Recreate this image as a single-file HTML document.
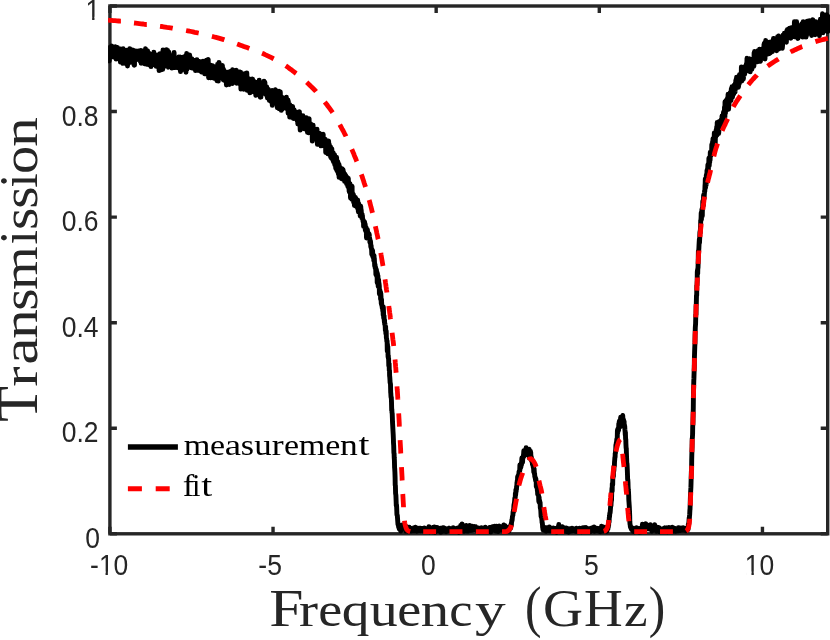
<!DOCTYPE html>
<html><head><meta charset="utf-8"><title>Transmission vs Frequency</title>
<style>
html,body{margin:0;padding:0;background:#fff;}
body{width:830px;height:640px;overflow:hidden;}
svg{display:block;will-change:transform;}
.sans{font-family:"Liberation Sans",sans-serif;font-size:26.5px;fill:#262626;}
.serif{font-family:"Liberation Serif",serif;fill:#262626;}
.leg{font-family:"Liberation Serif",serif;fill:#000;}
</style></head><body>
<svg width="830" height="640" viewBox="0 0 830 640">
<rect width="830" height="640" fill="#fff"/>
<g id="axes" fill="none" stroke="#262626" stroke-width="3.4">
<rect x="109.9" y="6.0" width="717.80" height="527.80"/>
<path d="M109.90 533.80V526.80M109.90 6.00V13.00M273.04 533.80V526.80M273.04 6.00V13.00M436.17 533.80V526.80M436.17 6.00V13.00M599.31 533.80V526.80M599.31 6.00V13.00M762.45 533.80V526.80M762.45 6.00V13.00M109.90 533.80H116.90M827.70 533.80H820.70M109.90 428.24H116.90M827.70 428.24H820.70M109.90 322.68H116.90M827.70 322.68H820.70M109.90 217.12H116.90M827.70 217.12H820.70M109.90 111.56H116.90M827.70 111.56H820.70M109.90 6.00H116.90M827.70 6.00H820.70"/>
</g>
<clipPath id="box"><rect x="108.1" y="4.3" width="722.3" height="531.2"/></clipPath>
<g id="curves" fill="none" clip-path="url(#box)">
<path id="meas" d="M107.6 55.7L107.8 60.8L107.9 60.2L108.1 53.4L108.3 54.2L108.5 53.2L108.6 57.4L108.8 54.8L109.0 57.9L109.1 47.7L109.3 60.8L109.5 54.3L109.6 57.2L109.8 53.9L110.0 52.8L110.2 56.0L110.3 57.3L110.5 53.2L110.7 53.3L110.8 56.4L111.0 50.3L111.2 47.7L111.3 55.0L111.5 50.8L111.7 45.9L111.9 50.1L112.0 51.4L112.2 48.6L112.4 47.4L112.5 53.2L112.7 56.5L112.9 52.2L113.0 50.2L113.2 54.5L113.4 55.8L113.6 51.9L113.7 55.2L113.9 57.1L114.1 52.3L114.2 50.0L114.4 54.6L114.6 54.2L114.7 57.5L114.9 48.4L115.1 50.8L115.3 50.2L115.4 46.8L115.6 54.1L115.8 55.7L115.9 50.8L116.1 59.1L116.3 57.0L116.4 56.3L116.6 55.5L116.8 57.7L117.0 48.9L117.1 56.5L117.3 56.5L117.5 47.4L117.6 55.7L117.8 53.4L118.0 57.4L118.1 52.8L118.3 54.4L118.5 55.9L118.7 51.2L118.8 57.0L119.0 54.3L119.2 56.6L119.3 52.8L119.5 59.0L119.7 57.2L119.8 54.2L120.0 57.4L120.2 59.9L120.4 62.0L120.5 49.0L120.7 58.6L120.9 57.0L121.0 54.9L121.2 51.4L121.4 60.2L121.5 50.5L121.7 57.6L121.9 60.5L122.1 49.3L122.2 54.3L122.4 50.5L122.6 56.5L122.7 61.4L122.9 63.4L123.1 48.7L123.2 53.3L123.4 58.3L123.6 61.6L123.8 57.2L123.9 52.7L124.1 56.7L124.3 55.5L124.4 54.8L124.6 52.7L124.8 57.0L124.9 56.7L125.1 55.2L125.3 54.7L125.5 50.7L125.6 53.8L125.8 60.4L126.0 55.0L126.1 50.2L126.3 61.0L126.5 58.0L126.6 64.1L126.8 56.3L127.0 54.3L127.2 50.6L127.3 61.4L127.5 66.0L127.7 53.2L127.8 53.9L128.0 58.8L128.2 53.3L128.3 55.6L128.5 55.3L128.7 57.5L128.9 61.0L129.0 56.9L129.2 60.4L129.4 55.3L129.5 58.2L129.7 48.7L129.9 51.4L130.0 60.1L130.2 54.8L130.4 59.4L130.6 59.2L130.7 62.3L130.9 60.3L131.1 61.2L131.2 56.8L131.4 54.6L131.6 54.5L131.7 55.4L131.9 52.9L132.1 55.2L132.3 57.0L132.4 58.3L132.6 56.0L132.8 49.9L132.9 57.0L133.1 58.1L133.3 61.4L133.4 59.4L133.6 54.7L133.8 54.4L134.0 64.9L134.1 60.0L134.3 64.1L134.5 65.2L134.6 53.8L134.8 58.4L135.0 58.7L135.1 59.0L135.3 58.9L135.5 57.5L135.7 57.4L135.8 50.9L136.0 56.0L136.2 53.7L136.3 57.0L136.5 54.7L136.7 58.8L136.8 59.6L137.0 57.5L137.2 57.5L137.4 56.6L137.5 54.5L137.7 55.6L137.9 54.3L138.0 57.7L138.2 56.2L138.4 58.4L138.5 51.0L138.7 59.6L138.9 53.2L139.1 53.3L139.2 55.4L139.4 54.0L139.6 57.3L139.7 54.0L139.9 52.1L140.1 53.0L140.2 61.3L140.4 56.4L140.6 51.8L140.8 56.4L140.9 50.4L141.1 63.3L141.3 50.6L141.4 58.4L141.6 58.7L141.8 51.0L141.9 57.8L142.1 60.5L142.3 58.5L142.5 57.8L142.6 60.5L142.8 57.5L143.0 58.2L143.1 56.5L143.3 59.4L143.5 53.4L143.6 60.2L143.8 55.2L144.0 53.0L144.2 58.7L144.3 63.8L144.5 61.1L144.7 55.4L144.8 60.1L145.0 55.7L145.2 57.1L145.3 57.9L145.5 48.7L145.7 58.4L145.9 53.8L146.0 55.1L146.2 52.1L146.4 52.0L146.5 54.2L146.7 61.1L146.9 64.4L147.0 57.9L147.2 62.2L147.4 57.0L147.6 50.7L147.7 58.7L147.9 59.8L148.1 56.5L148.2 59.3L148.4 60.4L148.6 54.9L148.7 52.6L148.9 57.5L149.1 57.5L149.3 57.0L149.4 62.2L149.6 65.1L149.8 56.9L149.9 61.2L150.1 62.2L150.3 61.4L150.4 62.7L150.6 57.2L150.8 61.6L151.0 66.6L151.1 61.9L151.3 56.5L151.5 61.2L151.6 63.8L151.8 60.4L152.0 56.8L152.1 65.0L152.3 54.3L152.5 61.1L152.7 59.1L152.8 54.6L153.0 64.0L153.2 60.7L153.3 54.9L153.5 61.7L153.7 57.8L153.8 52.2L154.0 56.9L154.2 60.7L154.4 62.2L154.5 60.4L154.7 60.0L154.9 61.7L155.0 59.2L155.2 64.6L155.4 60.7L155.5 61.4L155.7 62.4L155.9 56.3L156.1 57.7L156.2 66.4L156.4 61.9L156.6 59.6L156.7 62.0L156.9 58.9L157.1 61.9L157.2 58.3L157.4 62.0L157.6 54.9L157.8 66.1L157.9 59.0L158.1 54.9L158.3 60.1L158.4 59.6L158.6 61.6L158.8 56.6L158.9 62.5L159.1 70.6L159.3 56.0L159.5 62.2L159.6 59.6L159.8 61.5L160.0 53.8L160.1 56.3L160.3 62.4L160.5 60.4L160.6 66.8L160.8 57.7L161.0 61.0L161.2 69.9L161.3 57.3L161.5 56.7L161.7 59.9L161.8 59.8L162.0 63.2L162.2 60.4L162.3 56.9L162.5 60.5L162.7 69.3L162.9 64.5L163.0 49.9L163.2 58.9L163.4 56.0L163.5 61.7L163.7 58.6L163.9 66.7L164.0 62.8L164.2 62.6L164.4 59.9L164.6 59.0L164.7 60.4L164.9 64.1L165.1 61.2L165.2 57.8L165.4 64.1L165.6 59.9L165.7 58.9L165.9 56.2L166.1 57.1L166.3 56.9L166.4 49.8L166.6 63.4L166.8 61.7L166.9 58.8L167.1 63.7L167.3 61.4L167.4 61.2L167.6 50.4L167.8 59.0L168.0 62.1L168.1 66.3L168.3 67.2L168.5 65.7L168.6 55.9L168.8 52.0L169.0 62.7L169.1 60.7L169.3 64.3L169.5 60.2L169.7 61.6L169.8 55.1L170.0 62.6L170.2 59.3L170.3 62.4L170.5 62.8L170.7 60.7L170.8 62.4L171.0 61.2L171.2 64.2L171.4 63.2L171.5 59.2L171.7 59.1L171.9 68.1L172.0 61.0L172.2 65.2L172.4 62.9L172.5 59.3L172.7 58.6L172.9 61.9L173.1 62.5L173.2 63.8L173.4 56.6L173.6 59.2L173.7 61.1L173.9 67.6L174.1 52.4L174.2 63.2L174.4 59.4L174.6 63.2L174.8 59.6L174.9 62.9L175.1 67.6L175.3 62.9L175.4 63.3L175.6 63.1L175.8 58.8L175.9 63.8L176.1 60.9L176.3 58.7L176.5 61.7L176.6 61.0L176.8 64.8L177.0 61.8L177.1 60.0L177.3 67.7L177.5 66.0L177.6 67.1L177.8 64.6L178.0 61.9L178.2 60.8L178.3 61.4L178.5 66.2L178.7 63.1L178.8 57.0L179.0 62.6L179.2 57.4L179.3 63.5L179.5 58.4L179.7 58.2L179.9 63.6L180.0 62.9L180.2 56.9L180.4 66.2L180.5 71.6L180.7 57.7L180.9 70.4L181.0 60.8L181.2 61.6L181.4 62.8L181.6 58.0L181.7 68.6L181.9 65.5L182.1 60.7L182.2 62.6L182.4 57.8L182.6 62.3L182.7 67.2L182.9 57.1L183.1 62.0L183.3 64.2L183.4 67.6L183.6 68.7L183.8 61.8L183.9 60.7L184.1 65.2L184.3 62.1L184.4 62.3L184.6 67.6L184.8 69.9L185.0 64.4L185.1 62.6L185.3 65.5L185.5 56.0L185.6 63.1L185.8 59.1L186.0 72.3L186.1 65.8L186.3 63.6L186.5 62.2L186.7 53.4L186.8 65.6L187.0 69.1L187.2 60.1L187.3 65.4L187.5 65.6L187.7 56.9L187.8 66.3L188.0 67.9L188.2 63.6L188.4 62.5L188.5 65.8L188.7 56.9L188.9 63.1L189.0 66.8L189.2 58.1L189.4 66.7L189.5 61.3L189.7 55.0L189.9 62.6L190.1 59.3L190.2 64.3L190.4 58.6L190.6 67.1L190.7 60.4L190.9 64.6L191.1 61.0L191.2 62.1L191.4 67.9L191.6 64.3L191.8 62.0L191.9 58.8L192.1 68.1L192.3 66.5L192.4 62.5L192.6 64.8L192.8 60.0L192.9 60.1L193.1 60.9L193.3 65.5L193.5 65.3L193.6 61.4L193.8 67.2L194.0 67.5L194.1 65.2L194.3 68.6L194.5 63.6L194.6 64.4L194.8 66.7L195.0 64.8L195.2 68.1L195.3 60.3L195.5 70.6L195.7 62.3L195.8 64.7L196.0 60.2L196.2 67.8L196.3 70.4L196.5 69.7L196.7 68.9L196.9 59.8L197.0 62.8L197.2 64.1L197.4 62.4L197.5 70.3L197.7 66.8L197.9 66.0L198.0 68.0L198.2 62.6L198.4 62.8L198.6 63.0L198.7 68.3L198.9 67.7L199.1 68.7L199.2 70.6L199.4 61.4L199.6 64.5L199.7 67.2L199.9 61.6L200.1 64.7L200.3 70.6L200.4 71.0L200.6 70.9L200.8 67.0L200.9 66.1L201.1 71.0L201.3 65.5L201.4 68.3L201.6 72.1L201.8 65.6L202.0 64.7L202.1 67.0L202.3 69.4L202.5 69.0L202.6 67.7L202.8 69.3L203.0 61.1L203.1 63.9L203.3 67.9L203.5 63.7L203.7 62.2L203.8 62.7L204.0 63.8L204.2 66.7L204.3 63.5L204.5 68.3L204.7 73.9L204.8 66.9L205.0 72.3L205.2 68.6L205.4 63.3L205.5 66.7L205.7 63.9L205.9 70.7L206.0 63.4L206.2 72.9L206.4 70.1L206.5 60.3L206.7 71.0L206.9 74.0L207.1 65.2L207.2 72.1L207.4 61.6L207.6 69.5L207.7 62.3L207.9 70.5L208.1 62.0L208.2 59.4L208.4 70.5L208.6 77.8L208.8 67.0L208.9 72.5L209.1 69.9L209.3 68.4L209.4 72.1L209.6 76.1L209.8 65.2L209.9 72.2L210.1 71.5L210.3 64.9L210.5 76.5L210.6 77.9L210.8 67.0L211.0 77.3L211.1 71.0L211.3 70.3L211.5 76.7L211.6 72.0L211.8 72.4L212.0 77.0L212.2 76.3L212.3 74.9L212.5 66.2L212.7 65.7L212.8 76.0L213.0 68.3L213.2 72.4L213.3 67.9L213.5 71.3L213.7 67.2L213.9 78.3L214.0 68.3L214.2 71.7L214.4 71.5L214.5 76.9L214.7 66.9L214.9 72.2L215.0 71.6L215.2 74.4L215.4 74.2L215.6 70.6L215.7 73.3L215.9 70.9L216.1 74.1L216.2 71.9L216.4 69.8L216.6 72.2L216.7 73.6L216.9 80.8L217.1 70.3L217.3 73.3L217.4 77.6L217.6 64.2L217.8 65.4L217.9 67.5L218.1 71.5L218.3 81.1L218.4 73.3L218.6 76.4L218.8 70.9L219.0 62.4L219.1 63.0L219.3 75.6L219.5 72.4L219.6 66.8L219.8 75.9L220.0 65.9L220.1 76.0L220.3 77.3L220.5 68.9L220.7 67.7L220.8 75.1L221.0 67.8L221.2 75.3L221.3 67.6L221.5 75.2L221.7 72.6L221.8 70.7L222.0 69.1L222.2 73.5L222.4 65.5L222.5 71.8L222.7 71.4L222.9 75.6L223.0 68.5L223.2 79.8L223.4 72.3L223.5 69.3L223.7 79.0L223.9 80.2L224.1 73.3L224.2 70.8L224.4 74.4L224.6 71.8L224.7 73.4L224.9 80.6L225.1 76.4L225.2 75.6L225.4 76.5L225.6 75.1L225.8 78.6L225.9 78.9L226.1 74.3L226.3 76.2L226.4 85.0L226.6 77.6L226.8 75.4L226.9 84.0L227.1 76.4L227.3 72.3L227.5 79.0L227.6 73.2L227.8 74.7L228.0 77.9L228.1 76.2L228.3 73.9L228.5 74.7L228.6 74.6L228.8 81.2L229.0 74.1L229.2 74.7L229.3 84.5L229.5 74.8L229.7 82.5L229.8 81.8L230.0 76.2L230.2 71.5L230.3 78.5L230.5 79.3L230.7 80.4L230.9 77.0L231.0 81.2L231.2 81.9L231.4 72.6L231.5 82.0L231.7 77.2L231.9 74.4L232.0 75.3L232.2 83.5L232.4 80.1L232.6 69.7L232.7 76.7L232.9 75.9L233.1 75.7L233.2 74.4L233.4 70.9L233.6 79.6L233.7 72.9L233.9 75.0L234.1 74.2L234.3 73.7L234.4 79.3L234.6 78.0L234.8 74.1L234.9 73.1L235.1 74.9L235.3 80.4L235.4 77.3L235.6 77.7L235.8 75.7L236.0 76.0L236.1 77.9L236.3 70.2L236.5 83.3L236.6 74.3L236.8 75.3L237.0 82.5L237.1 78.4L237.3 77.8L237.5 75.6L237.7 72.0L237.8 78.6L238.0 82.5L238.2 74.8L238.3 83.4L238.5 74.1L238.7 75.7L238.8 80.4L239.0 78.6L239.2 81.3L239.4 76.1L239.5 75.1L239.7 72.0L239.9 74.6L240.0 75.2L240.2 74.0L240.4 80.6L240.5 77.1L240.7 72.2L240.9 89.1L241.1 76.8L241.2 75.3L241.4 84.7L241.6 84.5L241.7 75.9L241.9 74.8L242.1 76.7L242.2 84.8L242.4 79.4L242.6 77.7L242.8 80.7L242.9 85.4L243.1 75.7L243.3 79.6L243.4 75.9L243.6 89.3L243.8 88.1L243.9 84.9L244.1 80.9L244.3 83.9L244.5 73.7L244.6 82.6L244.8 76.7L245.0 76.8L245.1 79.1L245.3 80.5L245.5 84.0L245.6 84.6L245.8 83.0L246.0 78.5L246.2 84.6L246.3 81.7L246.5 86.6L246.7 78.8L246.8 72.9L247.0 80.5L247.2 90.4L247.3 84.2L247.5 81.7L247.7 85.8L247.9 84.5L248.0 84.4L248.2 80.8L248.4 83.0L248.5 83.6L248.7 80.5L248.9 78.8L249.0 83.6L249.2 86.8L249.4 85.6L249.6 85.2L249.7 85.3L249.9 92.9L250.1 84.6L250.2 87.6L250.4 91.2L250.6 84.2L250.7 85.1L250.9 88.1L251.1 90.7L251.3 85.7L251.4 86.0L251.6 85.1L251.8 80.4L251.9 89.2L252.1 84.2L252.3 78.9L252.4 84.9L252.6 79.1L252.8 81.9L253.0 85.9L253.1 82.5L253.3 90.1L253.5 80.7L253.6 87.3L253.8 88.5L254.0 92.0L254.1 90.1L254.3 87.6L254.5 87.2L254.7 86.7L254.8 91.3L255.0 84.7L255.2 89.2L255.3 86.9L255.5 88.2L255.7 86.4L255.8 95.4L256.0 85.1L256.2 88.5L256.4 88.6L256.5 89.9L256.7 89.4L256.9 89.3L257.0 91.4L257.2 82.2L257.4 87.8L257.5 83.2L257.7 88.7L257.9 83.4L258.1 84.3L258.2 87.6L258.4 93.1L258.6 90.0L258.7 89.0L258.9 93.1L259.1 84.4L259.2 80.2L259.4 86.4L259.6 86.9L259.8 92.6L259.9 95.9L260.1 83.1L260.3 97.2L260.4 93.8L260.6 91.2L260.8 89.4L260.9 97.1L261.1 88.4L261.3 86.4L261.5 88.7L261.6 83.2L261.8 90.0L262.0 87.9L262.1 89.6L262.3 89.8L262.5 84.6L262.6 93.5L262.8 84.9L263.0 92.0L263.2 82.9L263.3 90.3L263.5 86.0L263.7 89.3L263.8 86.8L264.0 81.3L264.2 85.4L264.3 89.9L264.5 92.1L264.7 84.5L264.9 82.2L265.0 87.0L265.2 89.6L265.4 88.2L265.5 87.7L265.7 94.0L265.9 94.6L266.0 94.0L266.2 87.9L266.4 91.9L266.6 91.0L266.7 86.7L266.9 95.4L267.1 92.7L267.2 90.8L267.4 98.0L267.6 95.8L267.7 96.3L267.9 97.8L268.1 96.2L268.3 89.1L268.4 92.5L268.6 97.9L268.8 91.5L268.9 94.7L269.1 96.2L269.3 100.3L269.4 99.9L269.6 98.6L269.8 94.8L270.0 99.1L270.1 97.8L270.3 95.4L270.5 101.2L270.6 98.1L270.8 93.7L271.0 101.3L271.1 95.8L271.3 99.1L271.5 91.4L271.7 97.0L271.8 93.7L272.0 93.7L272.2 90.4L272.3 105.4L272.5 97.1L272.7 98.6L272.8 101.9L273.0 97.4L273.2 99.9L273.4 93.0L273.5 98.8L273.7 96.7L273.9 100.1L274.0 99.0L274.2 93.3L274.4 91.6L274.5 94.8L274.7 101.3L274.9 100.2L275.1 100.1L275.2 91.3L275.4 89.6L275.6 96.5L275.7 97.7L275.9 96.7L276.1 100.3L276.2 98.5L276.4 94.8L276.6 96.0L276.8 99.8L276.9 99.6L277.1 99.1L277.3 107.8L277.4 98.6L277.6 100.1L277.8 96.1L277.9 98.5L278.1 101.8L278.3 102.0L278.5 99.4L278.6 101.6L278.8 100.4L279.0 93.4L279.1 91.2L279.3 108.9L279.5 103.6L279.6 100.4L279.8 94.4L280.0 96.2L280.2 105.9L280.3 91.9L280.5 99.9L280.7 104.4L280.8 101.9L281.0 104.2L281.2 101.1L281.3 110.4L281.5 98.0L281.7 96.9L281.9 103.0L282.0 107.3L282.2 102.0L282.4 106.1L282.5 100.5L282.7 98.2L282.9 107.7L283.0 108.5L283.2 108.4L283.4 101.4L283.6 98.9L283.7 98.9L283.9 102.5L284.1 105.5L284.2 105.4L284.4 98.4L284.6 104.4L284.7 103.9L284.9 104.3L285.1 104.0L285.3 103.4L285.4 106.4L285.6 104.8L285.8 105.3L285.9 102.1L286.1 106.2L286.3 104.4L286.4 97.3L286.6 106.9L286.8 104.3L287.0 108.8L287.1 105.0L287.3 105.4L287.5 106.6L287.6 106.0L287.8 104.6L288.0 99.9L288.1 113.2L288.3 101.0L288.5 105.6L288.7 109.4L288.8 108.5L289.0 109.4L289.2 110.3L289.3 112.3L289.5 108.9L289.7 117.1L289.8 104.6L290.0 109.2L290.2 107.3L290.4 106.8L290.5 110.0L290.7 114.4L290.9 106.8L291.0 107.0L291.2 112.4L291.4 111.9L291.5 117.2L291.7 114.0L291.9 111.3L292.1 109.5L292.2 111.7L292.4 110.5L292.6 106.4L292.7 111.6L292.9 111.1L293.1 111.1L293.2 110.6L293.4 118.5L293.6 115.1L293.8 116.2L293.9 110.9L294.1 109.7L294.3 112.6L294.4 114.7L294.6 112.8L294.8 113.7L294.9 118.0L295.1 115.9L295.3 111.6L295.5 113.8L295.6 113.3L295.8 116.6L296.0 112.0L296.1 115.8L296.3 119.2L296.5 117.0L296.6 113.9L296.8 115.2L297.0 118.1L297.2 119.7L297.3 121.2L297.5 117.9L297.7 113.9L297.8 124.0L298.0 120.1L298.2 120.7L298.3 120.6L298.5 116.0L298.7 118.7L298.9 121.0L299.0 123.9L299.2 120.6L299.4 111.6L299.5 119.8L299.7 122.1L299.9 125.6L300.0 123.6L300.2 130.1L300.4 126.4L300.6 126.3L300.7 124.9L300.9 116.7L301.1 124.8L301.2 124.0L301.4 120.1L301.6 124.1L301.7 123.6L301.9 120.6L302.1 121.9L302.3 121.4L302.4 123.3L302.6 121.0L302.8 124.5L302.9 115.8L303.1 121.7L303.3 116.8L303.4 121.2L303.6 124.8L303.8 123.1L304.0 122.7L304.1 123.5L304.3 128.9L304.5 119.5L304.6 126.7L304.8 118.2L305.0 122.0L305.1 124.4L305.3 120.9L305.5 124.7L305.7 126.7L305.8 120.0L306.0 124.1L306.2 123.1L306.3 117.7L306.5 124.0L306.7 122.0L306.8 129.7L307.0 122.0L307.2 131.2L307.4 123.5L307.5 132.4L307.7 127.6L307.9 127.5L308.0 128.9L308.2 129.5L308.4 131.4L308.5 132.8L308.7 125.7L308.9 122.8L309.1 118.6L309.2 126.3L309.4 130.6L309.6 129.5L309.7 128.9L309.9 127.5L310.1 126.7L310.2 128.3L310.4 130.9L310.6 123.6L310.8 132.7L310.9 125.3L311.1 130.1L311.3 128.7L311.4 129.9L311.6 127.8L311.8 127.7L311.9 131.2L312.1 128.4L312.3 141.1L312.5 131.3L312.6 130.7L312.8 131.3L313.0 129.7L313.1 125.1L313.3 133.0L313.5 135.2L313.6 129.0L313.8 134.5L314.0 130.5L314.2 134.8L314.3 136.3L314.5 136.9L314.7 136.9L314.8 133.1L315.0 138.8L315.2 134.3L315.3 137.2L315.5 138.6L315.7 135.2L315.9 131.9L316.0 138.6L316.2 132.6L316.4 133.5L316.5 132.9L316.7 139.8L316.9 136.3L317.0 129.1L317.2 139.6L317.4 144.4L317.6 143.5L317.7 135.3L317.9 137.6L318.1 139.2L318.2 140.6L318.4 137.7L318.6 133.8L318.7 140.4L318.9 139.9L319.1 133.3L319.3 136.7L319.4 139.0L319.6 138.1L319.8 140.1L319.9 141.1L320.1 140.3L320.3 138.1L320.4 134.0L320.6 140.9L320.8 143.8L321.0 145.9L321.1 139.1L321.3 139.3L321.5 144.6L321.6 144.7L321.8 141.1L322.0 142.6L322.1 137.7L322.3 142.5L322.5 137.9L322.7 140.4L322.8 140.7L323.0 139.7L323.2 134.3L323.3 138.9L323.5 143.2L323.7 142.0L323.8 141.1L324.0 144.2L324.2 145.3L324.4 146.1L324.5 140.6L324.7 143.7L324.9 142.7L325.0 141.1L325.2 139.2L325.4 144.2L325.5 141.8L325.7 152.5L325.9 145.0L326.1 144.8L326.2 144.4L326.4 152.5L326.6 143.0L326.7 146.0L326.9 144.1L327.1 146.6L327.2 147.2L327.4 151.3L327.6 142.9L327.8 148.0L327.9 153.9L328.1 146.8L328.3 148.2L328.4 146.1L328.6 140.9L328.8 149.3L328.9 154.0L329.1 148.7L329.3 144.2L329.5 151.8L329.6 151.4L329.8 154.9L330.0 154.9L330.1 151.2L330.3 153.8L330.5 146.6L330.6 156.9L330.8 154.1L331.0 157.5L331.2 157.8L331.3 153.5L331.5 154.3L331.7 152.2L331.8 148.6L332.0 155.5L332.2 156.8L332.3 153.0L332.5 159.5L332.7 157.8L332.9 159.4L333.0 155.6L333.2 152.6L333.4 161.6L333.5 161.4L333.7 159.3L333.9 158.7L334.0 159.5L334.2 160.4L334.4 159.5L334.6 154.8L334.7 164.6L334.9 157.2L335.1 161.5L335.2 162.0L335.4 164.2L335.6 158.3L335.7 168.1L335.9 166.6L336.1 167.3L336.3 169.3L336.4 162.7L336.6 157.3L336.8 167.1L336.9 170.7L337.1 170.5L337.3 165.1L337.4 166.9L337.6 168.5L337.8 161.7L338.0 165.9L338.1 166.2L338.3 174.0L338.5 166.8L338.6 174.5L338.8 169.5L339.0 164.2L339.1 177.4L339.3 167.1L339.5 172.6L339.7 176.5L339.8 169.3L340.0 167.2L340.2 175.0L340.3 172.0L340.5 168.0L340.7 168.7L340.8 171.2L341.0 175.9L341.2 172.0L341.4 175.3L341.5 178.8L341.7 177.8L341.9 178.5L342.0 178.0L342.2 168.8L342.4 178.4L342.5 175.6L342.7 174.3L342.9 171.3L343.1 169.8L343.2 171.6L343.4 175.4L343.6 171.8L343.7 173.2L343.9 174.1L344.1 178.5L344.2 175.6L344.4 176.3L344.6 181.4L344.8 176.2L344.9 179.5L345.1 174.3L345.3 179.1L345.4 178.7L345.6 179.2L345.8 177.4L345.9 175.8L346.1 178.5L346.3 178.3L346.5 183.6L346.6 183.5L346.8 176.9L347.0 183.3L347.1 180.0L347.3 183.5L347.5 180.8L347.6 178.0L347.8 186.5L348.0 185.1L348.2 180.0L348.3 178.3L348.5 183.2L348.7 181.5L348.8 184.6L349.0 188.3L349.2 191.5L349.3 186.0L349.5 192.1L349.7 191.9L349.9 187.1L350.0 183.6L350.2 192.2L350.4 191.9L350.5 198.0L350.7 195.5L350.9 193.8L351.0 197.2L351.2 188.8L351.4 193.3L351.6 192.2L351.7 199.2L351.9 195.8L352.1 186.3L352.2 199.2L352.4 192.3L352.6 198.1L352.7 194.5L352.9 197.2L353.1 198.8L353.3 197.7L353.4 194.4L353.6 202.3L353.8 199.5L353.9 198.5L354.1 201.1L354.3 197.5L354.4 205.5L354.6 200.5L354.8 201.3L355.0 201.5L355.1 197.8L355.3 197.2L355.5 201.9L355.6 202.6L355.8 206.1L356.0 203.5L356.1 198.9L356.3 204.3L356.5 205.5L356.7 206.3L356.8 204.5L357.0 199.9L357.2 207.7L357.3 202.0L357.5 206.5L357.7 200.0L357.8 207.7L358.0 203.1L358.2 209.4L358.4 211.8L358.5 210.3L358.7 203.4L358.9 204.4L359.0 205.0L359.2 210.2L359.4 209.6L359.5 209.5L359.7 210.4L359.9 211.6L360.1 212.3L360.2 216.0L360.4 211.0L360.6 212.2L360.7 206.3L360.9 208.4L361.1 210.9L361.2 209.8L361.4 214.7L361.6 217.7L361.8 213.7L361.9 214.0L362.1 214.5L362.3 217.0L362.4 215.4L362.6 219.0L362.8 219.1L362.9 219.8L363.1 221.7L363.3 220.0L363.5 220.9L363.6 226.4L363.8 221.4L364.0 224.6L364.1 222.8L364.3 221.8L364.5 222.4L364.6 221.8L364.8 224.9L365.0 223.6L365.2 224.7L365.3 230.3L365.5 226.7L365.7 231.2L365.8 229.0L366.0 231.4L366.2 227.5L366.3 230.3L366.5 238.0L366.7 233.5L366.9 234.5L367.0 232.7L367.2 235.1L367.4 229.6L367.5 231.1L367.7 235.5L367.9 237.2L368.0 234.0L368.2 235.3L368.4 235.3L368.6 236.4L368.7 233.9L368.9 233.8L369.1 238.5L369.2 234.1L369.4 237.0L369.6 238.6L369.7 238.0L369.9 242.5L370.1 241.1L370.3 242.9L370.4 240.8L370.6 242.3L370.8 246.7L370.9 247.0L371.1 245.3L371.3 248.5L371.4 248.7L371.6 249.4L371.8 254.5L372.0 249.4L372.1 252.6L372.3 253.4L372.5 252.3L372.6 250.5L372.8 256.7L373.0 256.3L373.1 256.5L373.3 257.3L373.5 258.1L373.7 256.3L373.8 260.6L374.0 255.4L374.2 261.4L374.3 258.0L374.5 262.2L374.7 266.1L374.8 264.2L375.0 264.5L375.2 268.2L375.4 266.8L375.5 267.3L375.7 268.2L375.9 274.6L376.0 273.0L376.2 273.4L376.4 269.5L376.5 275.5L376.7 271.0L376.9 276.9L377.1 273.2L377.2 282.7L377.4 273.4L377.6 282.4L377.7 282.1L377.9 275.7L378.1 280.9L378.2 286.5L378.4 286.5L378.6 279.6L378.8 283.7L378.9 282.8L379.1 284.2L379.3 286.1L379.4 293.9L379.6 290.1L379.8 290.0L379.9 290.7L380.1 294.4L380.3 295.3L380.5 291.9L380.6 299.3L380.8 293.3L381.0 296.5L381.1 299.4L381.3 303.8L381.5 299.2L381.6 301.9L381.8 305.7L382.0 304.9L382.2 307.3L382.3 308.1L382.5 307.1L382.7 309.2L382.8 311.1L383.0 309.7L383.2 315.2L383.3 306.9L383.5 310.9L383.7 318.3L383.9 316.9L384.0 315.3L384.2 319.3L384.4 322.4L384.5 319.5L384.7 324.3L384.9 323.3L385.0 324.7L385.2 326.3L385.4 330.7L385.6 326.4L385.7 329.8L385.9 334.0L386.1 330.7L386.2 331.3L386.4 338.3L386.6 338.4L386.7 339.6L386.9 341.9L387.1 340.8L387.3 351.2L387.4 344.0L387.6 347.1L387.8 346.4L387.9 350.6L388.1 357.2L388.3 355.4L388.4 358.8L388.6 358.2L388.8 366.0L389.0 364.3L389.1 363.4L389.3 370.7L389.5 370.6L389.6 375.6L389.8 377.3L390.0 380.3L390.1 382.7L390.3 383.0L390.5 384.3L390.7 392.7L390.8 393.0L391.0 396.7L391.2 397.8L391.3 397.2L391.5 401.8L391.7 410.6L391.8 408.8L392.0 412.7L392.2 413.4L392.4 418.5L392.5 422.0L392.7 425.5L392.9 429.0L393.0 431.1L393.2 434.5L393.4 439.0L393.5 443.1L393.7 445.6L393.9 452.9L394.1 453.5L394.2 457.3L394.4 460.0L394.6 467.7L394.7 468.5L394.9 472.1L395.1 477.8L395.2 484.9L395.4 485.8L395.6 493.5L395.8 494.7L395.9 495.4L396.1 500.3L396.3 506.0L396.4 504.3L396.6 506.0L396.8 510.8L396.9 514.1L397.1 515.4L397.3 515.2L397.5 517.8L397.6 519.3L397.8 522.0L398.0 524.6L398.1 524.0L398.3 525.5L398.5 525.2L398.6 527.1L398.8 525.9L399.0 526.5L399.2 528.8L399.3 527.3L399.5 528.7L399.7 527.3L399.8 528.7L400.0 528.5L400.2 528.7L400.3 529.7L400.5 530.5L400.7 531.1L400.9 527.1L401.0 529.9L401.2 528.5L401.4 527.6L401.5 529.2L401.7 526.7L401.9 526.1L402.0 527.1L402.2 524.9L402.4 528.8L402.6 526.0L402.7 526.3L402.9 529.1L403.1 529.2L403.2 527.6L403.4 529.3L403.6 527.1L403.7 527.7L403.9 529.1L404.1 527.9L404.3 527.7L404.4 526.3L404.6 528.0L404.8 527.1L404.9 529.2L405.1 527.9L405.3 529.8L405.4 529.2L405.6 531.0L405.8 528.5L406.0 529.8L406.1 528.6L406.3 529.5L406.5 527.5L406.6 526.8L406.8 527.8L407.0 530.8L407.1 529.7L407.3 528.2L407.5 530.7L407.7 529.4L407.8 529.2L408.0 528.7L408.2 530.4L408.3 531.4L408.5 528.7L408.7 530.0L408.8 530.2L409.0 531.5L409.2 527.2L409.4 529.8L409.5 529.3L409.7 527.9L409.9 529.8L410.0 528.9L410.2 531.0L410.4 529.2L410.5 529.6L410.7 529.6L410.9 530.5L411.1 529.4L411.2 528.9L411.4 528.7L411.6 531.0L411.7 530.6L411.9 530.4L412.1 528.9L412.2 529.6L412.4 530.8L412.6 530.2L412.8 529.2L412.9 529.7L413.1 529.4L413.3 529.5L413.4 529.1L413.6 530.9L413.8 529.9L413.9 529.1L414.1 527.8L414.3 528.6L414.5 529.3L414.6 530.3L414.8 528.9L415.0 530.7L415.1 529.7L415.3 529.0L415.5 527.2L415.6 528.4L415.8 528.2L416.0 528.9L416.2 530.0L416.3 530.6L416.5 529.1L416.7 528.7L416.8 531.2L417.0 529.4L417.2 529.0L417.3 529.4L417.5 528.1L417.7 530.5L417.9 529.9L418.0 530.9L418.2 530.2L418.4 530.5L418.5 530.3L418.7 529.3L418.9 529.7L419.0 529.8L419.2 528.2L419.4 529.8L419.6 529.8L419.7 530.4L419.9 529.5L420.1 528.4L420.2 529.5L420.4 530.9L420.6 528.3L420.7 529.3L420.9 529.7L421.1 528.6L421.3 529.0L421.4 529.5L421.6 529.0L421.8 529.7L421.9 529.9L422.1 528.4L422.3 529.6L422.4 530.7L422.6 529.4L422.8 529.4L423.0 529.8L423.1 529.7L423.3 529.7L423.5 529.0L423.6 529.1L423.8 530.6L424.0 529.3L424.1 530.9L424.3 528.0L424.5 528.8L424.7 530.7L424.8 529.9L425.0 529.3L425.2 530.0L425.3 528.6L425.5 529.3L425.7 528.7L425.8 530.9L426.0 528.9L426.2 529.5L426.4 529.4L426.5 530.0L426.7 529.6L426.9 530.9L427.0 528.4L427.2 529.6L427.4 530.0L427.5 530.5L427.7 529.2L427.9 531.2L428.1 531.1L428.2 530.0L428.4 530.0L428.6 529.6L428.7 530.5L428.9 526.7L429.1 528.7L429.2 530.6L429.4 531.9L429.6 528.2L429.8 530.8L429.9 529.7L430.1 530.3L430.3 530.0L430.4 529.4L430.6 530.2L430.8 528.5L430.9 531.1L431.1 529.3L431.3 528.8L431.5 529.2L431.6 528.8L431.8 529.0L432.0 530.9L432.1 527.7L432.3 527.7L432.5 528.6L432.6 530.7L432.8 531.3L433.0 531.6L433.2 530.5L433.3 528.9L433.5 530.2L433.7 528.1L433.8 528.4L434.0 529.8L434.2 528.2L434.3 527.0L434.5 528.4L434.7 529.3L434.9 530.7L435.0 532.2L435.2 529.6L435.4 528.6L435.5 527.4L435.7 530.1L435.9 530.6L436.0 528.3L436.2 529.4L436.4 527.5L436.6 528.6L436.7 528.6L436.9 529.8L437.1 530.5L437.2 528.5L437.4 530.6L437.6 530.7L437.7 527.8L437.9 528.1L438.1 530.3L438.3 530.2L438.4 528.8L438.6 530.3L438.8 530.2L438.9 530.8L439.1 529.0L439.3 530.2L439.4 530.6L439.6 530.8L439.8 531.3L440.0 530.6L440.1 529.4L440.3 530.4L440.5 528.3L440.6 530.5L440.8 532.3L441.0 529.5L441.1 530.0L441.3 529.1L441.5 531.0L441.7 529.3L441.8 530.3L442.0 529.4L442.2 528.8L442.3 528.1L442.5 527.9L442.7 527.8L442.8 531.4L443.0 528.7L443.2 528.5L443.4 530.8L443.5 529.2L443.7 529.7L443.9 530.4L444.0 528.9L444.2 527.8L444.4 529.7L444.5 529.3L444.7 530.0L444.9 529.0L445.1 529.4L445.2 529.8L445.4 530.0L445.6 529.8L445.7 529.8L445.9 528.7L446.1 531.7L446.2 528.8L446.4 530.0L446.6 529.5L446.8 529.2L446.9 530.0L447.1 530.2L447.3 531.0L447.4 530.2L447.6 528.9L447.8 530.3L447.9 528.6L448.1 529.4L448.3 530.3L448.5 530.6L448.6 528.7L448.8 528.4L449.0 530.9L449.1 529.3L449.3 528.1L449.5 528.6L449.6 529.6L449.8 531.0L450.0 529.9L450.2 530.7L450.3 529.5L450.5 530.2L450.7 530.8L450.8 529.7L451.0 529.7L451.2 529.4L451.3 529.2L451.5 530.6L451.7 528.9L451.9 529.8L452.0 529.3L452.2 529.5L452.4 529.2L452.5 530.8L452.7 530.1L452.9 529.8L453.0 531.6L453.2 527.6L453.4 528.9L453.6 528.0L453.7 529.7L453.9 530.0L454.1 530.8L454.2 529.8L454.4 529.2L454.6 531.0L454.7 529.9L454.9 530.1L455.1 528.8L455.3 530.5L455.4 529.2L455.6 529.9L455.8 529.8L455.9 529.7L456.1 529.2L456.3 531.1L456.4 529.4L456.6 528.6L456.8 530.0L457.0 530.4L457.1 529.9L457.3 529.7L457.5 529.3L457.6 529.4L457.8 528.0L458.0 530.2L458.1 528.9L458.3 529.0L458.5 531.1L458.7 529.8L458.8 532.2L459.0 528.2L459.2 528.6L459.3 529.7L459.5 529.8L459.7 528.0L459.8 528.8L460.0 529.8L460.2 528.9L460.4 527.0L460.5 530.3L460.7 525.4L460.9 526.8L461.0 527.5L461.2 528.3L461.4 529.0L461.5 526.7L461.7 526.6L461.9 527.1L462.1 523.9L462.2 528.7L462.4 528.9L462.6 528.7L462.7 527.4L462.9 526.8L463.1 528.1L463.2 528.0L463.4 529.2L463.6 529.1L463.8 527.7L463.9 527.1L464.1 531.3L464.3 530.5L464.4 529.3L464.6 529.5L464.8 528.8L464.9 530.4L465.1 529.0L465.3 529.4L465.5 528.5L465.6 528.4L465.8 528.9L466.0 525.7L466.1 528.1L466.3 525.5L466.5 525.9L466.6 528.6L466.8 531.1L467.0 527.5L467.2 528.6L467.3 529.1L467.5 530.1L467.7 529.9L467.8 530.9L468.0 530.4L468.2 531.1L468.3 530.2L468.5 527.2L468.7 528.4L468.9 529.9L469.0 528.2L469.2 528.5L469.4 528.0L469.5 529.7L469.7 525.5L469.9 526.7L470.0 528.2L470.2 528.1L470.4 529.5L470.6 528.6L470.7 528.0L470.9 530.5L471.1 528.9L471.2 529.7L471.4 526.6L471.6 529.0L471.7 529.9L471.9 527.7L472.1 530.3L472.3 526.1L472.4 530.4L472.6 526.6L472.8 528.5L472.9 526.9L473.1 527.5L473.3 530.0L473.4 529.4L473.6 529.1L473.8 528.6L474.0 528.9L474.1 526.4L474.3 529.1L474.5 529.4L474.6 527.9L474.8 529.0L475.0 529.3L475.1 528.1L475.3 529.4L475.5 527.0L475.7 526.9L475.8 529.4L476.0 528.5L476.2 529.5L476.3 529.1L476.5 529.0L476.7 530.4L476.8 530.6L477.0 530.4L477.2 530.7L477.4 529.8L477.5 530.3L477.7 531.0L477.9 528.4L478.0 530.3L478.2 531.9L478.4 528.0L478.5 531.3L478.7 528.5L478.9 530.0L479.1 531.7L479.2 531.5L479.4 528.8L479.6 529.0L479.7 528.4L479.9 530.3L480.1 529.6L480.2 529.7L480.4 530.1L480.6 529.9L480.8 530.7L480.9 529.8L481.1 528.3L481.3 531.0L481.4 527.8L481.6 531.1L481.8 528.9L481.9 529.5L482.1 529.5L482.3 529.2L482.5 529.8L482.6 529.6L482.8 529.4L483.0 530.2L483.1 529.1L483.3 531.3L483.5 528.9L483.6 528.8L483.8 529.8L484.0 530.1L484.2 529.2L484.3 529.7L484.5 530.7L484.7 528.7L484.8 528.6L485.0 529.6L485.2 528.7L485.3 527.3L485.5 528.3L485.7 530.0L485.9 530.3L486.0 530.3L486.2 530.3L486.4 528.3L486.5 530.2L486.7 530.5L486.9 529.0L487.0 530.5L487.2 529.6L487.4 530.3L487.6 530.0L487.7 528.6L487.9 530.6L488.1 529.2L488.2 529.5L488.4 529.7L488.6 530.3L488.7 530.7L488.9 529.5L489.1 531.4L489.3 529.7L489.4 529.2L489.6 527.5L489.8 529.7L489.9 529.6L490.1 529.6L490.3 529.5L490.4 530.9L490.6 530.3L490.8 532.0L491.0 530.2L491.1 529.6L491.3 529.9L491.5 527.4L491.6 529.0L491.8 528.2L492.0 528.4L492.1 530.2L492.3 528.0L492.5 526.8L492.7 528.0L492.8 530.2L493.0 526.6L493.2 528.2L493.3 528.8L493.5 527.1L493.7 529.3L493.8 528.8L494.0 530.3L494.2 530.3L494.4 527.1L494.5 529.4L494.7 526.7L494.9 526.3L495.0 526.8L495.2 528.9L495.4 526.6L495.5 528.4L495.7 528.9L495.9 531.0L496.1 528.9L496.2 527.8L496.4 529.3L496.6 527.6L496.7 526.3L496.9 530.3L497.1 529.4L497.2 527.8L497.4 527.7L497.6 529.4L497.8 529.5L497.9 529.1L498.1 531.6L498.3 528.5L498.4 527.5L498.6 528.3L498.8 530.9L498.9 530.7L499.1 526.7L499.3 526.1L499.5 528.4L499.6 526.6L499.8 529.0L500.0 529.0L500.1 527.0L500.3 527.4L500.5 527.0L500.6 528.2L500.8 529.9L501.0 527.3L501.2 528.3L501.3 528.5L501.5 530.1L501.7 529.5L501.8 529.0L502.0 530.2L502.2 529.9L502.3 529.2L502.5 527.7L502.7 529.4L502.9 529.3L503.0 530.7L503.2 527.4L503.4 528.9L503.5 525.6L503.7 524.9L503.9 530.2L504.0 526.8L504.2 525.7L504.4 528.2L504.6 528.2L504.7 529.5L504.9 529.7L505.1 529.1L505.2 525.8L505.4 526.5L505.6 528.7L505.7 527.9L505.9 527.0L506.1 529.4L506.3 528.5L506.4 527.1L506.6 528.4L506.8 529.2L506.9 529.2L507.1 530.5L507.3 530.8L507.4 528.5L507.6 528.9L507.8 530.7L508.0 530.5L508.1 529.6L508.3 527.2L508.5 528.9L508.6 529.3L508.8 529.2L509.0 531.0L509.1 529.6L509.3 529.7L509.5 528.7L509.7 528.3L509.8 528.3L510.0 528.1L510.2 528.2L510.3 528.4L510.5 528.3L510.7 528.0L510.8 525.0L511.0 525.6L511.2 525.1L511.4 525.4L511.5 522.4L511.7 521.9L511.9 519.7L512.0 520.7L512.2 519.6L512.4 516.9L512.5 516.4L512.7 515.7L512.9 515.2L513.1 511.6L513.2 513.1L513.4 510.2L513.6 511.9L513.7 509.7L513.9 505.7L514.1 503.9L514.2 507.1L514.4 502.7L514.6 501.5L514.8 498.4L514.9 497.8L515.1 498.1L515.3 496.6L515.4 493.1L515.6 495.4L515.8 492.8L515.9 489.6L516.1 491.8L516.3 488.8L516.5 489.3L516.6 486.1L516.8 486.6L517.0 482.1L517.1 484.6L517.3 480.3L517.5 482.3L517.6 476.7L517.8 480.1L518.0 480.5L518.2 479.2L518.3 479.7L518.5 474.6L518.7 478.6L518.8 477.8L519.0 471.8L519.2 471.6L519.3 471.1L519.5 471.2L519.7 470.8L519.9 464.9L520.0 469.9L520.2 467.4L520.4 465.2L520.5 468.2L520.7 465.0L520.9 467.1L521.0 465.2L521.2 462.9L521.4 465.1L521.6 463.7L521.7 460.6L521.9 457.9L522.1 459.3L522.2 461.0L522.4 458.8L522.6 462.2L522.7 458.8L522.9 458.1L523.1 458.0L523.3 455.1L523.4 456.1L523.6 454.5L523.8 450.8L523.9 451.5L524.1 456.0L524.3 453.3L524.4 453.5L524.6 450.5L524.8 451.9L525.0 454.3L525.1 452.7L525.3 451.2L525.5 455.0L525.6 451.6L525.8 450.8L526.0 453.6L526.1 447.7L526.3 452.1L526.5 448.7L526.7 449.2L526.8 449.4L527.0 451.0L527.2 451.0L527.3 451.4L527.5 451.3L527.7 453.8L527.8 454.5L528.0 452.7L528.2 453.0L528.4 451.0L528.5 449.8L528.7 453.3L528.9 452.5L529.0 454.4L529.2 449.3L529.4 458.2L529.5 451.0L529.7 453.9L529.9 456.1L530.1 451.7L530.2 453.7L530.4 451.1L530.6 452.6L530.7 452.0L530.9 456.5L531.1 457.2L531.2 456.5L531.4 460.1L531.6 461.0L531.8 458.8L531.9 459.0L532.1 459.6L532.3 460.1L532.4 464.4L532.6 463.2L532.8 463.1L532.9 464.3L533.1 466.8L533.3 465.9L533.5 468.4L533.6 468.4L533.8 472.0L534.0 472.6L534.1 468.7L534.3 471.8L534.5 474.4L534.6 473.3L534.8 476.8L535.0 476.7L535.2 478.2L535.3 478.1L535.5 479.6L535.7 480.9L535.8 478.4L536.0 480.4L536.2 481.1L536.3 486.8L536.5 485.3L536.7 486.3L536.9 487.2L537.0 486.9L537.2 487.2L537.4 491.0L537.5 489.8L537.7 494.3L537.9 492.7L538.0 493.4L538.2 493.9L538.4 495.1L538.6 496.2L538.7 499.5L538.9 501.8L539.1 497.0L539.2 500.2L539.4 501.9L539.6 500.3L539.7 502.1L539.9 503.7L540.1 502.3L540.3 507.8L540.4 507.7L540.6 508.9L540.8 510.5L540.9 512.6L541.1 516.6L541.3 514.4L541.4 515.7L541.6 517.5L541.8 518.8L542.0 520.9L542.1 523.0L542.3 522.8L542.5 524.7L542.6 526.9L542.8 527.9L543.0 529.7L543.1 528.5L543.3 530.0L543.5 526.8L543.7 530.3L543.8 529.0L544.0 528.2L544.2 529.3L544.3 528.9L544.5 530.0L544.7 528.2L544.8 530.6L545.0 528.5L545.2 529.2L545.4 530.7L545.5 529.0L545.7 529.0L545.9 528.8L546.0 528.8L546.2 531.2L546.4 529.9L546.5 527.6L546.7 529.0L546.9 528.5L547.1 529.0L547.2 529.7L547.4 528.9L547.6 529.7L547.7 528.4L547.9 530.1L548.1 529.0L548.2 530.5L548.4 530.6L548.6 529.4L548.8 529.6L548.9 529.6L549.1 530.6L549.3 526.9L549.4 528.1L549.6 530.7L549.8 528.9L549.9 530.2L550.1 530.0L550.3 529.0L550.5 530.5L550.6 530.2L550.8 530.3L551.0 530.7L551.1 530.4L551.3 528.2L551.5 530.0L551.6 529.2L551.8 529.9L552.0 528.9L552.2 528.8L552.3 530.2L552.5 529.6L552.7 529.9L552.8 529.8L553.0 529.6L553.2 529.8L553.3 528.0L553.5 529.0L553.7 529.5L553.9 530.8L554.0 530.9L554.2 529.4L554.4 531.5L554.5 530.1L554.7 530.1L554.9 529.5L555.0 529.5L555.2 530.4L555.4 528.6L555.6 528.5L555.7 529.7L555.9 530.9L556.1 529.1L556.2 529.6L556.4 529.6L556.6 531.9L556.7 532.2L556.9 530.0L557.1 530.5L557.3 531.0L557.4 531.0L557.6 529.7L557.8 530.8L557.9 529.4L558.1 527.0L558.3 528.3L558.4 529.8L558.6 528.6L558.8 524.5L559.0 527.1L559.1 526.7L559.3 527.4L559.5 527.7L559.6 531.2L559.8 527.8L560.0 527.3L560.1 529.9L560.3 528.7L560.5 530.9L560.7 528.8L560.8 529.7L561.0 530.8L561.2 529.5L561.3 529.5L561.5 528.8L561.7 530.7L561.8 529.7L562.0 530.4L562.2 528.5L562.4 527.8L562.5 526.6L562.7 530.2L562.9 528.0L563.0 529.8L563.2 531.3L563.4 530.3L563.5 527.7L563.7 528.4L563.9 530.1L564.1 529.2L564.2 530.8L564.4 529.0L564.6 530.3L564.7 528.4L564.9 530.0L565.1 531.3L565.2 530.8L565.4 528.8L565.6 531.3L565.8 529.8L565.9 529.8L566.1 528.0L566.3 529.3L566.4 531.5L566.6 529.8L566.8 530.2L566.9 529.3L567.1 530.8L567.3 529.6L567.5 530.4L567.6 530.2L567.8 529.2L568.0 530.2L568.1 530.7L568.3 528.8L568.5 530.1L568.6 532.2L568.8 529.4L569.0 530.1L569.2 529.0L569.3 529.9L569.5 529.6L569.7 530.6L569.8 530.3L570.0 528.7L570.2 531.1L570.3 529.4L570.5 529.3L570.7 530.3L570.9 529.0L571.0 529.9L571.2 530.2L571.4 529.5L571.5 530.2L571.7 528.5L571.9 531.0L572.0 528.1L572.2 530.9L572.4 529.6L572.6 529.6L572.7 529.0L572.9 530.3L573.1 530.0L573.2 530.0L573.4 530.5L573.6 529.1L573.7 529.6L573.9 530.1L574.1 530.7L574.3 529.6L574.4 529.5L574.6 529.8L574.8 530.9L574.9 530.8L575.1 528.8L575.3 529.0L575.4 528.9L575.6 530.4L575.8 531.3L576.0 529.1L576.1 529.7L576.3 530.0L576.5 528.1L576.6 529.3L576.8 529.4L577.0 529.6L577.1 529.9L577.3 529.3L577.5 531.5L577.7 529.2L577.8 529.7L578.0 530.8L578.2 531.1L578.3 529.8L578.5 530.4L578.7 530.5L578.8 530.3L579.0 530.7L579.2 529.1L579.4 530.4L579.5 528.3L579.7 528.8L579.9 528.6L580.0 530.2L580.2 528.8L580.4 529.1L580.5 528.6L580.7 529.6L580.9 528.9L581.1 529.4L581.2 530.4L581.4 528.2L581.6 530.4L581.7 531.8L581.9 529.1L582.1 529.6L582.2 528.6L582.4 529.5L582.6 528.6L582.8 530.2L582.9 529.3L583.1 527.8L583.3 528.8L583.4 528.1L583.6 529.2L583.8 530.2L583.9 529.1L584.1 529.0L584.3 528.9L584.5 529.0L584.6 527.7L584.8 530.5L585.0 530.0L585.1 527.6L585.3 530.4L585.5 528.3L585.6 529.3L585.8 530.9L586.0 528.0L586.2 527.7L586.3 528.4L586.5 528.5L586.7 529.8L586.8 528.9L587.0 529.6L587.2 529.7L587.3 529.4L587.5 528.9L587.7 529.9L587.9 529.5L588.0 528.7L588.2 531.5L588.4 528.7L588.5 530.6L588.7 528.9L588.9 530.0L589.0 529.9L589.2 530.2L589.4 530.6L589.6 528.8L589.7 531.3L589.9 530.4L590.1 528.5L590.2 528.5L590.4 531.7L590.6 531.0L590.7 529.8L590.9 530.0L591.1 530.8L591.3 529.5L591.4 529.1L591.6 529.5L591.8 530.2L591.9 529.4L592.1 528.2L592.3 530.1L592.4 527.8L592.6 528.5L592.8 530.6L593.0 529.8L593.1 529.3L593.3 529.7L593.5 530.2L593.6 529.5L593.8 527.6L594.0 529.5L594.1 527.0L594.3 527.6L594.5 531.3L594.7 530.2L594.8 528.7L595.0 529.1L595.2 529.7L595.3 530.0L595.5 528.5L595.7 528.7L595.8 529.2L596.0 529.5L596.2 529.5L596.4 529.5L596.5 530.7L596.7 528.3L596.9 529.3L597.0 528.9L597.2 528.5L597.4 530.9L597.5 529.0L597.7 529.2L597.9 530.1L598.1 528.5L598.2 530.0L598.4 530.4L598.6 530.7L598.7 529.1L598.9 529.5L599.1 531.3L599.2 529.9L599.4 531.0L599.6 531.4L599.8 528.6L599.9 530.6L600.1 530.6L600.3 530.5L600.4 531.7L600.6 529.8L600.8 529.3L600.9 530.0L601.1 530.0L601.3 529.3L601.5 526.3L601.6 531.4L601.8 527.7L602.0 529.1L602.1 529.8L602.3 530.6L602.5 529.7L602.6 529.0L602.8 527.5L603.0 527.0L603.2 530.8L603.3 527.4L603.5 527.2L603.7 531.1L603.8 529.3L604.0 531.0L604.2 530.2L604.3 530.2L604.5 530.6L604.7 530.6L604.9 530.0L605.0 528.3L605.2 529.0L605.4 528.1L605.5 530.1L605.7 529.7L605.9 528.8L606.0 527.5L606.2 529.2L606.4 529.7L606.6 528.9L606.7 528.0L606.9 531.3L607.1 528.8L607.2 529.1L607.4 528.1L607.6 528.0L607.7 528.7L607.9 528.8L608.1 526.5L608.3 527.1L608.4 524.9L608.6 525.6L608.8 521.6L608.9 522.2L609.1 521.9L609.3 517.2L609.4 517.5L609.6 515.9L609.8 513.4L610.0 512.7L610.1 513.0L610.3 510.7L610.5 508.0L610.6 506.7L610.8 506.0L611.0 505.4L611.1 502.9L611.3 501.1L611.5 500.4L611.7 493.5L611.8 491.5L612.0 488.0L612.2 491.1L612.3 483.6L612.5 485.3L612.7 484.5L612.8 478.5L613.0 477.7L613.2 476.3L613.4 476.1L613.5 469.9L613.7 471.3L613.9 470.1L614.0 467.3L614.2 465.7L614.4 466.0L614.5 462.2L614.7 459.9L614.9 457.3L615.1 457.2L615.2 453.4L615.4 453.3L615.6 450.2L615.7 450.4L615.9 444.8L616.1 444.8L616.2 443.7L616.4 442.2L616.6 442.2L616.8 439.3L616.9 439.0L617.1 439.9L617.3 436.3L617.4 431.3L617.6 429.4L617.8 432.7L617.9 429.5L618.1 430.0L618.3 428.1L618.5 430.4L618.6 429.4L618.8 423.7L619.0 426.0L619.1 424.1L619.3 421.2L619.5 424.8L619.6 422.5L619.8 423.1L620.0 426.9L620.2 424.0L620.3 423.0L620.5 419.3L620.7 417.2L620.8 422.0L621.0 418.3L621.2 418.8L621.3 417.6L621.5 418.4L621.7 423.3L621.9 417.4L622.0 417.5L622.2 418.7L622.4 419.2L622.5 416.3L622.7 415.5L622.9 418.6L623.0 419.9L623.2 419.3L623.4 419.5L623.6 420.4L623.7 422.3L623.9 423.7L624.1 421.3L624.2 424.5L624.4 427.4L624.6 427.5L624.7 426.0L624.9 429.4L625.1 431.7L625.3 435.1L625.4 432.1L625.6 439.1L625.8 439.3L625.9 443.6L626.1 447.8L626.3 448.5L626.4 452.6L626.6 457.9L626.8 463.0L627.0 463.7L627.1 465.2L627.3 469.6L627.5 474.8L627.6 479.3L627.8 479.5L628.0 482.9L628.1 486.6L628.3 489.8L628.5 491.6L628.7 495.6L628.8 499.6L629.0 502.3L629.2 505.2L629.3 506.7L629.5 510.8L629.7 515.6L629.8 521.5L630.0 523.9L630.2 524.9L630.4 527.1L630.5 526.4L630.7 527.3L630.9 526.7L631.0 528.6L631.2 527.7L631.4 528.7L631.5 529.3L631.7 528.8L631.9 528.0L632.1 529.2L632.2 529.2L632.4 529.7L632.6 530.6L632.7 528.9L632.9 529.4L633.1 531.3L633.2 530.2L633.4 529.1L633.6 528.3L633.8 529.2L633.9 529.8L634.1 530.3L634.3 531.7L634.4 529.2L634.6 529.5L634.8 528.9L634.9 529.7L635.1 529.6L635.3 528.9L635.5 530.6L635.6 529.5L635.8 530.9L636.0 529.3L636.1 529.5L636.3 530.7L636.5 527.7L636.6 528.9L636.8 529.9L637.0 529.6L637.2 528.0L637.3 529.1L637.5 528.8L637.7 529.0L637.8 530.8L638.0 528.9L638.2 531.8L638.3 529.5L638.5 528.8L638.7 530.8L638.9 530.4L639.0 530.8L639.2 532.0L639.4 531.1L639.5 530.8L639.7 528.5L639.9 529.6L640.0 530.1L640.2 530.1L640.4 530.8L640.6 529.4L640.7 530.8L640.9 531.8L641.1 530.0L641.2 530.8L641.4 528.6L641.6 527.9L641.7 529.0L641.9 529.3L642.1 526.9L642.3 527.4L642.4 524.3L642.6 528.4L642.8 525.9L642.9 525.8L643.1 527.9L643.3 529.1L643.4 526.8L643.6 529.0L643.8 527.6L644.0 527.4L644.1 528.7L644.3 527.6L644.5 527.9L644.6 525.8L644.8 524.7L645.0 529.7L645.1 525.8L645.3 525.9L645.5 527.3L645.7 525.5L645.8 523.7L646.0 527.1L646.2 526.8L646.3 527.1L646.5 524.6L646.7 528.7L646.8 526.4L647.0 528.6L647.2 528.3L647.4 528.7L647.5 526.9L647.7 527.2L647.9 526.8L648.0 527.1L648.2 527.6L648.4 527.5L648.5 525.8L648.7 528.7L648.9 528.6L649.1 527.9L649.2 527.2L649.4 526.8L649.6 526.3L649.7 527.8L649.9 528.0L650.1 527.0L650.2 529.4L650.4 524.7L650.6 525.6L650.8 526.9L650.9 527.3L651.1 528.5L651.3 528.8L651.4 529.6L651.6 528.4L651.8 529.9L651.9 531.3L652.1 529.7L652.3 528.8L652.5 529.2L652.6 528.2L652.8 529.5L653.0 528.1L653.1 528.5L653.3 527.2L653.5 527.0L653.6 528.1L653.8 529.4L654.0 530.0L654.2 528.3L654.3 529.8L654.5 526.8L654.7 524.7L654.8 528.3L655.0 527.3L655.2 529.0L655.3 528.5L655.5 526.3L655.7 529.2L655.9 529.1L656.0 527.4L656.2 528.6L656.4 531.2L656.5 529.9L656.7 530.5L656.9 529.1L657.0 527.2L657.2 528.7L657.4 528.6L657.6 530.2L657.7 529.3L657.9 530.2L658.1 527.5L658.2 530.2L658.4 527.4L658.6 529.3L658.7 529.0L658.9 529.3L659.1 527.8L659.3 528.7L659.4 530.1L659.6 531.8L659.8 529.1L659.9 529.3L660.1 530.1L660.3 529.8L660.4 529.5L660.6 529.6L660.8 529.9L661.0 530.1L661.1 530.3L661.3 531.1L661.5 530.8L661.6 529.8L661.8 529.7L662.0 530.5L662.1 528.9L662.3 531.3L662.5 529.9L662.7 531.0L662.8 528.8L663.0 530.8L663.2 530.4L663.3 529.7L663.5 528.8L663.7 529.0L663.8 531.1L664.0 530.7L664.2 529.9L664.4 529.9L664.5 528.7L664.7 528.4L664.9 527.9L665.0 529.1L665.2 529.2L665.4 528.7L665.5 530.0L665.7 529.7L665.9 530.3L666.1 528.0L666.2 529.8L666.4 529.4L666.6 528.5L666.7 528.0L666.9 531.5L667.1 530.0L667.2 529.2L667.4 531.7L667.6 530.9L667.8 529.8L667.9 530.2L668.1 530.7L668.3 530.9L668.4 529.3L668.6 529.4L668.8 530.2L668.9 527.5L669.1 529.6L669.3 529.6L669.5 529.7L669.6 529.2L669.8 530.2L670.0 529.4L670.1 529.8L670.3 529.3L670.5 529.9L670.6 529.5L670.8 530.2L671.0 528.0L671.2 530.0L671.3 530.1L671.5 528.3L671.7 529.3L671.8 531.0L672.0 529.6L672.2 528.9L672.3 527.3L672.5 530.3L672.7 529.7L672.9 530.0L673.0 531.1L673.2 529.6L673.4 529.5L673.5 528.9L673.7 529.5L673.9 529.6L674.0 530.2L674.2 530.0L674.4 528.3L674.6 529.1L674.7 530.8L674.9 528.4L675.1 529.2L675.2 531.0L675.4 530.1L675.6 530.0L675.7 531.4L675.9 530.2L676.1 529.8L676.3 529.7L676.4 530.5L676.6 530.0L676.8 530.8L676.9 529.2L677.1 529.4L677.3 529.2L677.4 529.8L677.6 529.2L677.8 530.8L678.0 529.7L678.1 529.4L678.3 527.7L678.5 528.5L678.6 530.7L678.8 529.7L679.0 530.1L679.1 529.1L679.3 530.1L679.5 528.3L679.7 528.3L679.8 528.1L680.0 529.8L680.2 530.4L680.3 530.1L680.5 529.5L680.7 528.3L680.8 530.6L681.0 529.6L681.2 529.8L681.4 529.3L681.5 528.8L681.7 528.6L681.9 528.7L682.0 528.0L682.2 529.3L682.4 529.2L682.5 530.2L682.7 527.9L682.9 530.2L683.1 529.1L683.2 529.7L683.4 528.3L683.6 528.3L683.7 527.8L683.9 529.8L684.1 529.4L684.2 529.9L684.4 530.2L684.6 528.6L684.8 529.2L684.9 529.2L685.1 529.9L685.3 529.4L685.4 529.1L685.6 529.8L685.8 528.9L685.9 530.8L686.1 528.1L686.3 530.0L686.5 530.6L686.6 528.2L686.8 529.7L687.0 529.9L687.1 530.0L687.3 528.6L687.5 529.2L687.6 528.3L687.8 528.3L688.0 529.5L688.2 526.9L688.3 524.3L688.5 524.4L688.7 523.0L688.8 524.0L689.0 520.8L689.2 517.7L689.3 519.3L689.5 516.3L689.7 514.2L689.9 509.8L690.0 509.6L690.2 503.7L690.4 497.0L690.5 494.5L690.7 490.9L690.9 487.4L691.0 484.1L691.2 476.1L691.4 470.8L691.6 470.2L691.7 459.7L691.9 451.8L692.1 446.7L692.2 438.8L692.4 437.7L692.6 434.1L692.7 426.3L692.9 424.5L693.1 415.3L693.3 408.3L693.4 396.9L693.6 388.7L693.8 380.6L693.9 378.9L694.1 372.3L694.3 366.8L694.4 358.7L694.6 352.0L694.8 346.3L695.0 342.4L695.1 335.8L695.3 327.7L695.5 324.8L695.6 323.5L695.8 314.3L696.0 314.7L696.1 306.0L696.3 304.1L696.5 295.0L696.7 295.6L696.8 285.3L697.0 285.5L697.2 280.2L697.3 271.9L697.5 270.1L697.7 273.8L697.8 268.7L698.0 267.8L698.2 261.5L698.4 250.7L698.5 255.8L698.7 250.6L698.9 248.0L699.0 245.5L699.2 241.9L699.4 238.8L699.5 242.9L699.7 238.2L699.9 232.6L700.1 231.0L700.2 233.1L700.4 229.2L700.6 226.6L700.7 220.3L700.9 220.8L701.1 216.8L701.2 212.7L701.4 219.7L701.6 214.3L701.8 212.5L701.9 209.3L702.1 213.2L702.3 215.9L702.4 209.7L702.6 209.4L702.8 201.1L702.9 204.2L703.1 203.0L703.3 205.6L703.5 199.5L703.6 195.1L703.8 196.5L704.0 193.9L704.1 198.6L704.3 194.8L704.5 192.4L704.6 190.6L704.8 191.5L705.0 185.9L705.2 183.3L705.3 178.9L705.5 187.8L705.7 184.4L705.8 183.7L706.0 180.6L706.2 184.9L706.3 175.1L706.5 181.2L706.7 173.5L706.9 173.7L707.0 170.2L707.2 173.5L707.4 171.3L707.5 172.7L707.7 168.3L707.9 164.7L708.0 170.3L708.2 171.7L708.4 169.0L708.6 165.4L708.7 166.1L708.9 158.1L709.1 161.8L709.2 165.9L709.4 162.7L709.6 157.4L709.7 162.3L709.9 158.1L710.1 160.2L710.3 152.1L710.4 154.2L710.6 156.3L710.8 155.4L710.9 155.4L711.1 152.7L711.3 151.3L711.4 152.8L711.6 153.4L711.8 144.5L712.0 147.8L712.1 147.5L712.3 148.0L712.5 150.2L712.6 141.4L712.8 147.1L713.0 138.6L713.1 141.3L713.3 141.4L713.5 141.6L713.7 139.8L713.8 139.4L714.0 139.4L714.2 139.0L714.3 133.0L714.5 133.9L714.7 136.7L714.8 139.4L715.0 140.5L715.2 145.2L715.4 136.3L715.5 132.6L715.7 135.4L715.9 136.6L716.0 134.2L716.2 129.5L716.4 132.3L716.5 132.0L716.7 126.8L716.9 127.0L717.1 134.9L717.2 122.4L717.4 130.3L717.6 128.3L717.7 133.7L717.9 130.5L718.1 124.9L718.2 131.9L718.4 125.1L718.6 133.6L718.8 132.0L718.9 125.5L719.1 128.1L719.3 125.6L719.4 121.4L719.6 127.9L719.8 125.3L719.9 126.4L720.1 126.8L720.3 127.6L720.5 125.9L720.6 121.5L720.8 121.8L721.0 122.5L721.1 120.2L721.3 119.4L721.5 126.5L721.6 121.2L721.8 125.8L722.0 116.0L722.2 118.1L722.3 116.3L722.5 116.1L722.7 116.0L722.8 116.2L723.0 114.6L723.2 122.1L723.3 117.7L723.5 112.2L723.7 112.5L723.9 116.6L724.0 115.4L724.2 110.9L724.4 115.9L724.5 107.0L724.7 110.0L724.9 117.4L725.0 101.7L725.2 109.5L725.4 113.3L725.6 108.8L725.7 106.0L725.9 105.1L726.1 100.4L726.2 102.6L726.4 107.1L726.6 104.4L726.7 105.9L726.9 104.9L727.1 106.0L727.3 98.5L727.4 102.9L727.6 102.3L727.8 101.9L727.9 99.3L728.1 94.1L728.3 103.9L728.4 104.1L728.6 109.2L728.8 102.8L729.0 105.7L729.1 101.4L729.3 97.4L729.5 100.2L729.6 93.7L729.8 98.3L730.0 96.6L730.1 92.8L730.3 100.6L730.5 99.8L730.7 97.0L730.8 97.9L731.0 100.5L731.2 93.6L731.3 88.8L731.5 89.8L731.7 95.5L731.8 93.4L732.0 86.8L732.2 96.7L732.4 92.3L732.5 97.1L732.7 95.0L732.9 88.9L733.0 90.6L733.2 87.2L733.4 86.5L733.5 88.2L733.7 90.9L733.9 93.8L734.1 85.2L734.2 90.7L734.4 88.0L734.6 86.8L734.7 91.5L734.9 85.8L735.1 91.9L735.2 85.3L735.4 82.9L735.6 88.8L735.8 80.3L735.9 81.1L736.1 84.5L736.3 84.9L736.4 83.7L736.6 77.1L736.8 79.2L736.9 85.8L737.1 85.6L737.3 79.6L737.5 84.1L737.6 83.6L737.8 86.3L738.0 79.6L738.1 87.4L738.3 80.6L738.5 86.8L738.6 84.6L738.8 77.1L739.0 79.5L739.2 81.4L739.3 83.8L739.5 74.6L739.7 77.6L739.8 81.5L740.0 80.7L740.2 74.6L740.3 74.9L740.5 79.6L740.7 73.8L740.9 78.3L741.0 80.5L741.2 76.8L741.4 66.9L741.5 80.6L741.7 80.2L741.9 80.9L742.0 78.5L742.2 68.6L742.4 80.0L742.6 75.6L742.7 77.6L742.9 73.1L743.1 72.5L743.2 72.2L743.4 78.8L743.6 73.5L743.7 71.4L743.9 67.0L744.1 73.3L744.3 71.3L744.4 71.5L744.6 74.4L744.8 73.1L744.9 70.0L745.1 70.6L745.3 69.8L745.4 71.9L745.6 71.5L745.8 69.1L746.0 65.0L746.1 71.2L746.3 71.1L746.5 63.4L746.6 68.6L746.8 65.4L747.0 58.3L747.1 66.2L747.3 69.7L747.5 63.1L747.7 62.9L747.8 69.2L748.0 60.9L748.2 61.3L748.3 63.4L748.5 66.8L748.7 66.6L748.8 62.0L749.0 62.6L749.2 63.9L749.4 61.9L749.5 59.9L749.7 58.8L749.9 65.5L750.0 61.8L750.2 71.9L750.4 64.6L750.5 59.2L750.7 61.9L750.9 63.0L751.1 63.1L751.2 63.1L751.4 63.0L751.6 60.6L751.7 63.5L751.9 69.3L752.1 59.1L752.2 59.2L752.4 63.3L752.6 65.2L752.8 63.5L752.9 64.9L753.1 60.0L753.3 59.2L753.4 62.5L753.6 62.6L753.8 66.3L753.9 65.8L754.1 52.8L754.3 62.7L754.5 57.1L754.6 51.5L754.8 61.0L755.0 58.8L755.1 58.0L755.3 54.4L755.5 55.3L755.6 58.3L755.8 53.3L756.0 58.6L756.2 59.4L756.3 58.3L756.5 59.9L756.7 58.4L756.8 54.1L757.0 54.5L757.2 58.9L757.3 61.9L757.5 58.7L757.7 56.0L757.9 58.5L758.0 50.7L758.2 53.7L758.4 55.9L758.5 57.0L758.7 55.8L758.9 55.9L759.0 52.2L759.2 54.4L759.4 57.4L759.6 49.1L759.7 51.4L759.9 54.5L760.1 61.4L760.2 58.1L760.4 61.4L760.6 60.3L760.7 53.2L760.9 54.5L761.1 50.0L761.3 58.9L761.4 57.0L761.6 56.3L761.8 56.4L761.9 55.4L762.1 54.3L762.3 54.3L762.4 57.8L762.6 49.9L762.8 48.7L763.0 52.6L763.1 56.9L763.3 53.2L763.5 51.3L763.6 55.2L763.8 52.2L764.0 44.3L764.1 47.6L764.3 43.2L764.5 50.3L764.7 49.3L764.8 52.6L765.0 59.0L765.2 48.3L765.3 50.5L765.5 48.9L765.7 40.5L765.8 47.1L766.0 47.1L766.2 50.9L766.4 46.4L766.5 44.5L766.7 51.7L766.9 49.0L767.0 45.6L767.2 46.0L767.4 47.7L767.5 51.9L767.7 54.1L767.9 43.3L768.1 52.8L768.2 48.3L768.4 49.4L768.6 51.6L768.7 43.9L768.9 50.8L769.1 42.3L769.2 45.4L769.4 43.7L769.6 53.5L769.8 53.1L769.9 49.5L770.1 48.5L770.3 44.2L770.4 52.9L770.6 51.5L770.8 49.4L770.9 45.3L771.1 44.3L771.3 45.2L771.5 50.5L771.6 41.6L771.8 45.6L772.0 51.4L772.1 48.3L772.3 51.6L772.5 46.3L772.6 46.3L772.8 49.9L773.0 47.0L773.2 45.7L773.3 42.3L773.5 38.4L773.7 49.9L773.8 42.4L774.0 41.1L774.2 47.3L774.3 40.4L774.5 38.6L774.7 41.6L774.9 43.5L775.0 44.8L775.2 45.7L775.4 47.4L775.5 43.2L775.7 45.0L775.9 43.1L776.0 41.1L776.2 45.1L776.4 44.9L776.6 50.7L776.7 45.8L776.9 40.8L777.1 45.8L777.2 42.5L777.4 49.6L777.6 36.8L777.7 40.8L777.9 40.8L778.1 43.8L778.3 42.8L778.4 37.1L778.6 36.0L778.8 43.9L778.9 48.9L779.1 48.8L779.3 41.5L779.4 44.8L779.6 39.6L779.8 37.3L780.0 47.6L780.1 45.4L780.3 41.4L780.5 41.1L780.6 46.1L780.8 43.7L781.0 41.0L781.1 43.3L781.3 42.1L781.5 40.4L781.7 39.1L781.8 45.3L782.0 39.8L782.2 36.9L782.3 48.4L782.5 46.0L782.7 43.1L782.8 40.6L783.0 41.5L783.2 34.9L783.4 40.3L783.5 41.3L783.7 39.2L783.9 41.5L784.0 36.7L784.2 40.2L784.4 33.1L784.5 38.9L784.7 36.4L784.9 33.5L785.1 36.9L785.2 38.3L785.4 35.7L785.6 41.4L785.7 34.9L785.9 41.0L786.1 40.0L786.2 34.6L786.4 42.3L786.6 31.3L786.8 38.4L786.9 36.4L787.1 38.9L787.3 29.7L787.4 31.0L787.6 32.2L787.8 35.3L787.9 35.4L788.1 34.9L788.3 33.7L788.5 31.8L788.6 29.0L788.8 32.5L789.0 36.1L789.1 37.8L789.3 31.8L789.5 37.8L789.6 28.2L789.8 36.4L790.0 29.0L790.2 34.0L790.3 29.3L790.5 29.1L790.7 30.6L790.8 38.2L791.0 30.0L791.2 34.9L791.3 33.0L791.5 33.5L791.7 33.5L791.9 34.6L792.0 27.5L792.2 32.3L792.4 33.4L792.5 29.7L792.7 33.3L792.9 28.0L793.0 34.7L793.2 29.1L793.4 30.8L793.6 34.9L793.7 36.0L793.9 29.6L794.1 29.3L794.2 35.6L794.4 21.8L794.6 36.9L794.7 36.7L794.9 27.6L795.1 36.3L795.3 33.1L795.4 33.5L795.6 22.7L795.8 29.8L795.9 30.9L796.1 30.1L796.3 30.1L796.4 30.5L796.6 21.7L796.8 30.8L797.0 28.9L797.1 31.3L797.3 29.7L797.5 31.6L797.6 32.7L797.8 38.5L798.0 28.3L798.1 38.1L798.3 30.5L798.5 28.0L798.7 25.8L798.8 34.8L799.0 25.5L799.2 34.9L799.3 32.6L799.5 29.0L799.7 28.6L799.8 33.1L800.0 31.8L800.2 34.0L800.4 31.1L800.5 29.0L800.7 33.1L800.9 26.3L801.0 34.2L801.2 31.1L801.4 26.5L801.5 26.8L801.7 29.5L801.9 23.6L802.1 36.1L802.2 34.4L802.4 26.3L802.6 30.1L802.7 37.1L802.9 32.0L803.1 26.4L803.2 21.8L803.4 23.8L803.6 34.8L803.8 31.3L803.9 24.9L804.1 32.7L804.3 28.4L804.4 27.2L804.6 27.7L804.8 27.8L804.9 36.1L805.1 25.7L805.3 27.8L805.5 34.5L805.6 35.1L805.8 25.2L806.0 37.1L806.1 33.2L806.3 22.9L806.5 35.7L806.6 22.7L806.8 31.1L807.0 23.7L807.2 21.1L807.3 31.4L807.5 29.6L807.7 27.5L807.8 28.4L808.0 27.2L808.2 26.4L808.3 23.1L808.5 29.5L808.7 27.2L808.9 26.0L809.0 24.6L809.2 25.6L809.4 20.6L809.5 25.3L809.7 22.5L809.9 31.4L810.0 22.5L810.2 24.4L810.4 26.1L810.6 29.1L810.7 27.7L810.9 25.9L811.1 34.3L811.2 25.6L811.4 26.9L811.6 35.5L811.7 22.0L811.9 29.3L812.1 27.2L812.3 20.2L812.4 22.9L812.6 28.7L812.8 19.6L812.9 24.6L813.1 29.0L813.3 24.4L813.4 26.4L813.6 22.7L813.8 22.9L814.0 23.0L814.1 24.1L814.3 28.0L814.5 25.9L814.6 33.4L814.8 27.9L815.0 26.8L815.1 34.7L815.3 25.4L815.5 22.7L815.7 26.6L815.8 21.7L816.0 28.1L816.2 31.5L816.3 28.6L816.5 24.5L816.7 25.6L816.8 28.1L817.0 30.9L817.2 24.6L817.4 24.5L817.5 30.5L817.7 27.0L817.9 27.5L818.0 28.0L818.2 23.0L818.4 25.5L818.5 30.2L818.7 25.3L818.9 25.1L819.1 27.0L819.2 27.3L819.4 35.7L819.6 22.4L819.7 26.1L819.9 33.4L820.1 25.5L820.2 26.7L820.4 19.3L820.6 28.9L820.8 28.4L820.9 28.0L821.1 23.9L821.3 26.0L821.4 24.2L821.6 27.7L821.8 24.2L821.9 27.2L822.1 18.7L822.3 22.6L822.5 13.7L822.6 23.1L822.8 26.7L823.0 22.5L823.1 32.8L823.3 19.4L823.5 21.9L823.6 19.5L823.8 21.1L824.0 21.2L824.2 17.1L824.3 19.1L824.5 31.0L824.7 21.8L824.8 26.5L825.0 17.8L825.2 22.4L825.3 24.9L825.5 22.1L825.7 20.8L825.9 22.1L826.0 23.0L826.2 26.2L826.4 27.7L826.5 17.7L826.7 14.8L826.9 22.2L827.0 23.1L827.2 26.0L827.4 27.4L827.6 20.6L827.7 31.5L827.9 24.4L828.1 16.4L828.2 27.3L828.4 24.7L828.6 24.8L828.7 17.3L828.9 22.5L829.1 24.4L829.3 23.2L829.4 26.7L829.6 29.0L829.8 30.1" stroke="#000" stroke-width="4.9" stroke-linejoin="round" stroke-linecap="round"/>
<path id="fit" d="M108.0 20.2L109.8 20.3L111.6 20.4L113.3 20.6L115.1 20.7L116.9 20.9L118.7 21.0L120.4 21.2L120.9 21.2M134.0 23.0L135.7 23.2L137.5 23.4L139.3 23.6L141.1 23.8L142.8 24.0L144.6 24.3L146.4 24.5L146.8 24.5M160.0 26.3L161.7 26.5L163.4 26.8L165.2 27.1L166.9 27.4L168.7 27.6L170.5 27.9L172.2 28.2L172.7 28.3M186.1 30.5L187.7 30.8L189.5 31.2L191.2 31.5L193.0 31.9L194.7 32.3L196.5 32.6L198.2 33.0L198.7 33.1M211.9 36.3L213.5 36.7L215.2 37.2L216.9 37.6L218.7 38.1L220.4 38.6L222.1 39.1L223.8 39.6L224.4 39.8M237.1 44.0L238.7 44.6L240.4 45.2L242.1 45.8L243.8 46.4L245.4 47.0L247.1 47.6L248.8 48.2L249.3 48.4M262.0 53.2L263.5 53.8L265.1 54.6L266.7 55.3L268.3 56.1L269.9 56.9L271.5 57.7L273.1 58.5L273.7 58.8M285.7 65.8L286.9 66.6L288.4 67.6L289.8 68.7L291.3 69.7L292.7 70.8L294.1 71.9L295.5 73.0L296.2 73.5M306.7 82.3L308.0 83.5L309.3 84.7L310.6 86.0L311.9 87.2L313.2 88.5L314.4 89.7L315.7 91.0L316.1 91.5M324.8 102.0L325.9 103.4L327.0 104.8L328.0 106.2L329.1 107.6L330.2 109.1L331.2 110.5L332.2 112.0L332.6 112.6M339.8 124.7L340.5 126.0L341.4 127.6L342.2 129.2L343.1 130.7L343.9 132.3L344.7 133.9L345.6 135.5L346.0 136.4M351.8 149.2L352.4 150.6L353.1 152.3L353.8 153.9L354.4 155.6L355.1 157.2L355.8 158.9L356.4 160.5L356.8 161.5M361.3 174.4L361.9 175.9L362.4 177.6L363.0 179.3L363.6 181.0L364.1 182.7L364.7 184.4L365.2 186.1L365.5 187.0M369.1 200.0L369.6 201.5L370.0 203.2L370.5 205.0L370.9 206.7L371.4 208.4L371.8 210.1L372.2 211.9L372.5 212.9M375.4 226.3L375.7 227.8L376.1 229.6L376.5 231.3L376.8 233.0L377.2 234.8L377.6 236.5L377.9 238.3L378.2 239.3M380.8 252.9L381.0 254.3L381.3 256.1L381.6 257.8L381.9 259.6L382.2 261.3L382.5 263.1L382.8 264.9L383.0 266.0M385.0 279.4L385.3 281.0L385.5 282.8L385.8 284.5L386.0 286.3L386.3 288.1L386.5 289.8L386.8 291.6L386.9 292.6M388.8 306.0L389.0 307.5L389.2 309.2L389.5 311.0L389.7 312.8L390.0 314.5L390.2 316.3L390.4 318.1L390.6 319.2M392.1 332.7L392.3 334.3L392.5 336.1L392.7 337.8L392.9 339.6L393.2 341.4L393.4 343.1L393.6 344.9L393.7 346.0M395.0 359.5L395.2 361.2L395.3 362.9L395.5 364.7L395.6 366.5L395.8 368.3L395.9 370.0L396.0 371.8L396.1 372.7M397.0 386.3L397.1 387.8L397.2 389.6L397.4 391.4L397.5 393.1L397.6 394.9L397.7 396.7L397.8 398.5L397.9 399.6M398.7 413.3L398.8 414.8L398.9 416.6L399.0 418.3L399.1 420.1L399.2 421.9L399.3 423.7L399.3 425.5L399.4 426.6M400.1 440.2L400.2 441.8L400.3 443.6L400.4 445.3L400.5 447.1L400.6 448.9L400.7 450.7L400.7 452.5L400.8 453.5M401.5 467.1L401.6 468.8L401.7 470.5L401.8 472.3L401.9 474.1L402.0 475.9L402.1 477.7L402.1 479.4L402.2 480.4M402.8 494.0L402.9 495.8L403.0 497.5L403.1 499.3L403.2 501.1L403.3 502.9L403.4 504.7L403.5 506.4L403.5 507.3M404.5 520.8L404.7 522.4L405.0 524.2L405.4 525.9L406.0 527.7L406.7 529.4L407.8 530.5L409.5 531.4L410.2 531.6M423.2 531.6L425.0 531.6L426.8 531.6L428.6 531.6L430.5 531.6L432.3 531.6L434.1 531.6L435.9 531.6L436.1 531.6M449.5 531.6L451.1 531.6L452.9 531.6L454.6 531.6L456.4 531.6L458.2 531.6L460.0 531.6L461.8 531.6L462.4 531.6M475.9 531.6L477.5 531.6L479.3 531.6L481.1 531.6L482.9 531.6L484.7 531.6L486.5 531.6L488.4 531.6L488.8 531.6M502.0 531.6L503.5 531.6L505.2 531.6L506.9 531.4L508.5 530.4L509.6 529.2L510.6 527.6L511.2 525.9L511.5 525.0M514.2 511.9L514.5 510.2L514.8 508.4L515.1 506.7L515.4 504.9L515.7 503.2L516.0 501.4L516.4 499.7L516.5 498.8M518.9 485.5L519.3 483.9L519.8 482.2L520.2 480.5L520.7 478.8L521.3 477.1L521.8 475.4L522.4 473.7L522.7 472.7M528.2 460.1L529.4 459.0L531.0 458.8L532.4 459.9L533.5 461.2L534.5 462.8L535.3 464.5L535.9 466.1L536.2 466.9M538.9 480.6L539.3 482.1L539.7 483.9L540.1 485.6L540.6 487.3L541.0 489.1L541.4 490.8L541.7 492.5L541.9 493.6M543.8 507.1L544.1 508.7L544.3 510.5L544.6 512.2L544.9 514.0L545.2 515.7L545.6 517.5L545.9 519.2L546.0 520.3M551.2 531.6L552.8 531.6L554.6 531.6L556.3 531.6L558.1 531.6L559.9 531.6L561.6 531.6L563.4 531.6L564.1 531.6M577.2 531.6L579.0 531.6L580.8 531.6L582.6 531.6L584.4 531.6L586.1 531.6L587.9 531.6L589.7 531.6L590.1 531.6M603.7 531.2L605.0 530.8L606.4 529.5L607.2 528.0L607.7 526.4L608.1 524.6L608.4 522.8L608.7 520.9L608.8 520.0M609.8 505.9L610.0 504.3L610.1 502.6L610.3 500.8L610.4 499.0L610.6 497.2L610.7 495.5L610.9 493.7L611.0 492.6M612.4 478.9L612.6 477.2L612.8 475.4L613.0 473.6L613.2 471.8L613.4 470.1L613.6 468.3L613.9 466.5L614.0 465.7M616.0 451.6L616.3 450.1L616.7 448.3L617.1 446.6L617.6 444.9L618.2 443.2L618.8 441.5L619.8 439.9L620.5 439.4M622.6 453.8L622.8 455.6L622.9 457.3L623.1 459.1L623.3 460.9L623.5 462.7L623.7 464.4L623.9 466.2L624.0 467.1M625.3 481.3L625.5 482.8L625.6 484.5L625.8 486.3L626.0 488.1L626.1 489.9L626.3 491.6L626.5 493.4L626.6 494.6M627.7 507.9L627.8 509.7L628.0 511.5L628.1 513.2L628.3 515.0L628.4 516.8L628.6 518.6L628.8 520.3L628.9 521.2M634.2 531.6L636.0 531.6L637.7 531.6L639.5 531.6L641.3 531.6L643.1 531.6L644.8 531.6L646.6 531.6L647.1 531.6M660.0 531.6L661.8 531.6L663.6 531.6L665.4 531.6L667.2 531.6L669.0 531.6L670.8 531.6L672.5 531.6L672.9 531.6M686.0 531.0L687.2 530.2L688.1 528.5L688.7 526.8L689.0 525.0L689.3 523.3L689.5 521.5L689.7 519.7L689.7 518.8M690.3 505.5L690.4 504.0L690.4 502.2L690.5 500.4L690.6 498.6L690.6 496.8L690.7 495.1L690.8 493.3L690.8 492.2M691.3 479.0L691.3 477.5L691.4 475.8L691.4 474.0L691.5 472.2L691.5 470.4L691.6 468.6L691.6 466.9L691.7 465.7M691.9 452.2L692.0 450.5L692.0 448.7L692.1 447.0L692.1 445.2L692.2 443.4L692.2 441.6L692.3 439.8L692.3 438.9M692.8 425.0L692.9 423.5L693.0 421.7L693.0 420.0L693.0 418.2L693.1 416.4L693.1 414.6L693.2 412.8L693.2 411.7M693.4 398.1L693.5 396.5L693.5 394.7L693.6 392.9L693.6 391.2L693.6 389.4L693.7 387.6L693.7 385.8L693.8 384.7M694.2 371.3L694.2 369.5L694.3 367.7L694.3 365.9L694.4 364.1L694.4 362.4L694.5 360.6L694.5 358.8L694.6 357.9M694.9 344.2L694.9 342.5L695.0 340.7L695.0 338.9L695.1 337.1L695.1 335.3L695.2 333.6L695.3 331.8L695.3 330.9M695.7 317.4L695.8 315.8L695.9 314.0L695.9 312.2L696.0 310.4L696.1 308.6L696.1 306.9L696.2 305.1L696.2 304.1M696.8 290.7L696.9 289.0L696.9 287.3L697.0 285.5L697.1 283.7L697.2 281.9L697.3 280.1L697.4 278.4L697.4 277.4M698.1 263.8L698.2 262.1L698.3 260.3L698.4 258.5L698.5 256.7L698.6 254.9L698.7 253.2L698.9 251.4L698.9 250.5M700.0 236.9L700.2 235.1L700.3 233.3L700.5 231.6L700.6 229.8L700.8 228.0L701.0 226.2L701.1 224.5L701.2 223.6M702.8 209.8L703.0 208.2L703.2 206.5L703.4 204.7L703.7 202.9L703.9 201.2L704.1 199.4L704.4 197.6L704.6 196.6M707.5 182.8L707.9 181.1L708.3 179.3L708.8 177.6L709.2 175.9L709.7 174.2L710.1 172.4L710.5 170.7L710.7 169.9M713.8 156.3L714.2 154.8L714.6 153.1L715.1 151.3L715.6 149.6L716.1 147.9L716.7 146.2L717.2 144.5L717.5 143.5M722.1 130.8L722.8 129.2L723.5 127.6L724.3 126.0L725.1 124.4L725.8 122.7L726.6 121.1L727.4 119.5L727.7 118.8M733.3 106.9L734.2 105.3L735.1 103.8L736.0 102.3L736.9 100.8L737.9 99.3L738.9 97.8L739.9 96.3L740.3 95.7M748.3 84.7L749.4 83.4L750.5 82.0L751.7 80.7L752.9 79.3L754.1 78.0L755.3 76.7L756.6 75.4L757.0 74.9M767.6 66.1L768.9 65.2L770.3 64.2L771.8 63.2L773.3 62.2L774.8 61.3L776.3 60.3L777.9 59.4L778.5 59.0M790.5 52.0L792.0 51.2L793.6 50.5L795.2 49.7L796.8 49.0L798.5 48.2L800.1 47.5L801.7 46.8L802.3 46.6M815.4 41.6L817.0 41.1L818.8 40.6L820.5 40.2L822.2 39.7L823.9 39.3L825.7 38.9L827.4 38.5L827.9 38.4" stroke="#ff0000" stroke-width="4.8"/>
</g>
<g id="legend">
<path d="M127.9 447.1H177.9" stroke="#000" stroke-width="5.5" fill="none"/>
<path d="M127.9 488.7H177.9" stroke="#ff0000" stroke-width="4.9" stroke-dasharray="14 13.8" fill="none"/>
<g class="leg" transform="translate(183.6 454.6)"><text transform="translate(0.15 0) scale(1.084 0.950)" font-size="31.6">m</text><text transform="translate(26.50 0) scale(1.073 0.950)" font-size="31.6">e</text><text transform="translate(41.27 0) scale(1.164 0.950)" font-size="31.6">a</text><text transform="translate(57.09 0) scale(1.076 0.950)" font-size="31.6">s</text><text transform="translate(70.57 0) scale(1.107 0.950)" font-size="31.6">u</text><text transform="translate(88.26 0) scale(1.131 0.950)" font-size="31.6">r</text><text transform="translate(100.34 0) scale(1.073 0.950)" font-size="31.6">e</text><text transform="translate(115.26 0) scale(1.084 0.950)" font-size="31.6">m</text><text transform="translate(141.61 0) scale(1.073 0.950)" font-size="31.6">e</text><text transform="translate(156.44 0) scale(1.125 0.950)" font-size="31.6">n</text><text transform="translate(174.87 0) scale(1.250 1.000)" font-size="31.6">t</text></g>
<g class="leg" transform="translate(182.8 496.0)"><text transform="translate(0.01 0) scale(1.091 1.000)" font-size="31.6">f</text><text transform="translate(9.31 0) scale(0.958 1.000)" font-size="31.6">i</text><text transform="translate(18.48 0) scale(1.250 1.000)" font-size="31.6">t</text></g>
</g>
<g class="sans"><text transform="translate(109.2 574.9) scale(1 1.1)" text-anchor="middle">-10</text><rect x="100.17" y="571.52" width="5.37" height="3.98" fill="#fff"/><rect x="107.88" y="571.52" width="5.42" height="3.98" fill="#fff"/><text transform="translate(270.1 574.9) scale(1 1.1)" text-anchor="middle">-5</text><text transform="translate(428.3 574.9) scale(1 1.1)" text-anchor="middle">0</text><text transform="translate(591.4 574.9) scale(1 1.1)" text-anchor="middle">5</text><text transform="translate(759.5 574.9) scale(1 1.1)" text-anchor="middle">10</text><rect x="746.10" y="571.52" width="5.37" height="3.98" fill="#fff"/><rect x="753.81" y="571.52" width="5.42" height="3.98" fill="#fff"/><text transform="translate(99.9 548.0) scale(1 1.1)" text-anchor="end">0</text><text transform="translate(98.6 442.4) scale(1 1.1)" text-anchor="end">0.2</text><text transform="translate(98.6 336.9) scale(1 1.1)" text-anchor="end">0.4</text><text transform="translate(98.6 231.3) scale(1 1.1)" text-anchor="end">0.6</text><text transform="translate(98.6 125.8) scale(1 1.1)" text-anchor="end">0.8</text><text transform="translate(100.2 20.2) scale(1 1.1)" text-anchor="end">1</text><rect x="86.76" y="16.82" width="5.37" height="3.98" fill="#fff"/><rect x="94.47" y="16.82" width="5.42" height="3.98" fill="#fff"/></g>
<g class="serif" transform="translate(269.4 625.7)"><text transform="translate(-0.07 0) scale(1.193 1.040)" font-size="51.5">F</text><text transform="translate(29.64 0) scale(1.109 0.950)" font-size="51.5">r</text><text transform="translate(48.93 0) scale(1.051 0.950)" font-size="51.5">e</text><text transform="translate(72.28 0) scale(1.076 0.950)" font-size="51.5">q</text><text transform="translate(100.42 0) scale(1.085 0.950)" font-size="51.5">u</text><text transform="translate(127.76 0) scale(1.051 0.950)" font-size="51.5">e</text><text transform="translate(151.45 0) scale(1.103 0.950)" font-size="51.5">n</text><text transform="translate(179.79 0) scale(1.016 0.950)" font-size="51.5">c</text><text transform="translate(205.49 0) scale(1.191 0.950)" font-size="51.5">y</text><text transform="translate(255.72 0) scale(0.962 1.100)" font-size="51.5">(</text><text transform="translate(273.58 0) scale(1.076 1.040)" font-size="51.5">G</text><text transform="translate(314.61 0) scale(1.041 1.040)" font-size="51.5">H</text><text transform="translate(354.67 0) scale(1.032 0.950)" font-size="51.5">z</text><text transform="translate(379.33 0) scale(0.962 1.100)" font-size="51.5">)</text></g>
<g class="serif" transform="translate(37.2 422.6) rotate(-90)"><text transform="translate(0.81 0) scale(1.134 1.092)" font-size="51.5">T</text><text transform="translate(35.75 0) scale(1.176 0.997)" font-size="51.5">r</text><text transform="translate(57.74 0) scale(1.194 0.997)" font-size="51.5">a</text><text transform="translate(83.75 0) scale(1.148 0.997)" font-size="51.5">n</text><text transform="translate(111.80 0) scale(1.120 0.997)" font-size="51.5">s</text><text transform="translate(132.59 0) scale(1.092 0.997)" font-size="51.5">m</text><text transform="translate(178.16 0) scale(1.007 1.050)" font-size="51.5">i</text><text transform="translate(192.71 0) scale(1.120 0.997)" font-size="51.5">s</text><text transform="translate(213.92 0) scale(1.120 0.997)" font-size="51.5">s</text><text transform="translate(234.75 0) scale(1.007 1.050)" font-size="51.5">i</text><text transform="translate(248.66 0) scale(1.098 0.997)" font-size="51.5">o</text><text transform="translate(275.78 0) scale(1.148 0.997)" font-size="51.5">n</text></g>
</svg>
</body></html>
